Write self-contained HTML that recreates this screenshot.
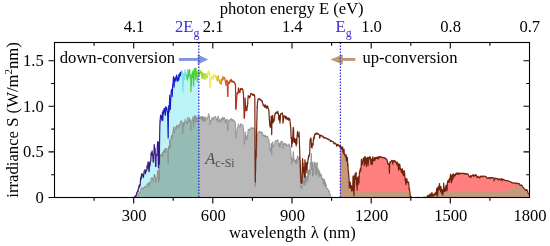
<!DOCTYPE html>
<html><head><meta charset="utf-8"><title>Solar spectrum</title>
<style>html,body{margin:0;padding:0;background:#fff}svg{display:block}</style></head>
<body><svg width="550" height="246" viewBox="0 0 550 246">
<rect width="550" height="246" fill="#fff"/>
<polygon fill="#bcf3f7" points="133.7,197.5 133.9,197.4 134.2,197.4 134.5,197.2 134.7,197.0 135.0,196.8 135.2,196.6 135.5,196.3 135.8,195.7 136.0,195.4 136.3,195.2 136.6,193.8 136.8,193.1 137.1,192.4 137.4,191.8 137.6,190.9 137.9,191.5 138.2,189.6 138.4,188.6 138.7,187.9 138.9,187.5 139.2,185.3 139.5,186.1 139.7,186.7 140.0,184.6 140.3,183.4 140.5,179.8 140.8,177.4 141.1,178.8 141.3,177.5 141.6,173.8 141.8,176.1 142.1,175.6 142.4,175.2 142.6,176.0 142.9,173.8 143.2,174.8 143.4,177.5 143.7,175.3 144.0,173.0 144.2,171.3 144.5,171.2 144.8,171.5 145.0,169.6 145.3,172.6 145.5,173.7 145.8,170.7 146.1,170.1 146.3,170.8 146.6,170.7 146.9,168.9 147.1,165.6 147.4,167.4 147.7,168.4 147.9,163.4 148.2,161.9 148.4,164.0 148.7,168.8 149.0,171.1 149.2,171.7 149.5,162.7 149.8,164.9 150.0,166.0 150.3,161.6 150.6,161.3 150.8,160.1 151.1,153.9 151.3,152.6 151.6,154.9 151.9,155.4 152.1,150.8 152.4,154.5 152.7,153.7 152.9,157.7 153.2,162.2 153.5,161.2 153.7,155.2 154.0,153.5 154.2,144.5 154.5,146.7 154.8,153.3 155.0,148.3 155.3,156.0 155.6,166.0 155.8,166.3 156.1,155.2 156.4,155.8 156.6,154.6 156.9,155.1 157.2,153.6 157.4,145.5 157.7,142.0 157.9,141.8 158.2,159.0 158.5,167.8 158.7,146.9 159.0,142.5 159.3,164.2 159.5,146.9 159.8,126.4 160.1,121.4 160.3,118.4 160.6,115.0 160.8,116.3 161.1,116.0 161.4,116.9 161.6,118.8 161.9,120.1 162.2,117.7 162.4,112.6 162.7,120.6 163.0,117.0 163.2,110.7 163.5,111.9 163.8,113.3 164.0,111.1 164.3,108.3 164.5,109.1 164.8,112.3 165.1,110.6 165.3,115.0 165.6,108.5 165.9,106.5 166.1,108.8 166.4,109.7 166.7,107.7 166.9,108.8 167.2,111.5 167.4,111.5 167.7,115.9 168.0,129.5 168.2,137.9 168.5,110.3 168.8,105.5 169.0,112.2 169.3,107.7 169.6,98.9 169.8,95.0 170.1,103.8 170.3,109.4 170.6,100.5 170.9,98.2 171.1,93.2 171.4,90.1 171.7,91.7 171.9,89.2 172.2,96.5 172.5,89.1 172.7,84.6 173.0,84.3 173.2,81.1 173.5,76.7 173.8,79.3 174.0,87.2 174.3,83.4 174.6,81.9 174.8,79.2 175.1,77.3 175.4,78.9 175.6,80.1 175.9,80.7 176.2,77.7 176.4,75.7 176.7,75.0 176.9,77.6 177.2,79.5 177.5,77.9 177.7,81.2 178.0,78.6 178.3,76.9 178.5,80.1 178.8,79.7 179.1,74.5 179.3,76.5 179.6,76.6 179.8,73.1 180.1,75.2 180.4,75.6 180.6,72.3 180.9,73.1 181.2,72.0 181.4,71.4 181.7,70.9 182.0,71.8 182.2,73.9 182.5,74.7 182.8,92.2 183.0,88.9 183.3,79.0 183.5,81.9 183.8,73.5 184.1,73.8 184.3,79.2 184.6,74.5 184.9,74.6 185.1,69.6 185.4,72.4 185.7,72.3 185.9,74.3 186.2,75.1 186.4,75.3 186.7,78.1 187.0,79.1 187.2,74.9 187.5,79.8 187.8,75.6 188.0,69.7 188.3,72.6 188.6,76.3 188.8,72.7 189.1,73.6 189.3,72.7 189.6,69.6 189.9,74.5 190.1,78.3 190.4,76.3 190.7,74.6 190.9,91.4 191.2,86.2 191.5,85.2 191.7,78.4 192.0,75.1 192.2,72.7 192.5,77.4 192.8,72.4 193.0,70.9 193.3,73.7 193.6,86.1 193.8,78.2 194.1,70.0 194.4,72.3 194.6,68.4 194.9,68.4 195.2,79.3 195.4,76.5 195.7,73.1 195.9,68.5 196.2,74.5 196.5,72.3 196.7,73.1 197.0,77.0 197.3,81.5 197.5,75.0 197.8,74.0 198.1,71.2 198.3,72.3 198.6,73.8 198.8,73.0 198.8,197.5 133.7,197.5"/>
<polygon fill="#b9b9b9" points="133.7,197.5 133.9,197.5 134.2,197.4 134.5,197.4 134.7,197.3 135.0,197.2 135.2,197.1 135.5,197.0 135.8,196.8 136.0,196.7 136.3,196.6 136.6,196.0 136.8,195.7 137.1,195.4 137.4,195.2 137.6,194.8 137.9,195.1 138.2,194.3 138.4,193.8 138.7,193.6 138.9,193.5 139.2,192.5 139.5,192.8 139.7,193.1 140.0,192.3 140.3,191.7 140.5,190.2 140.8,189.3 141.1,189.9 141.3,189.3 141.6,187.7 141.8,188.5 142.1,188.5 142.4,188.3 142.6,188.7 142.9,187.9 143.2,188.2 143.4,189.3 143.7,188.2 144.0,187.3 144.2,186.7 144.5,186.5 144.8,186.7 145.0,186.0 145.3,187.2 145.5,187.6 145.8,186.3 146.1,186.0 146.3,186.5 146.6,186.3 146.9,185.4 147.1,184.0 147.4,184.7 147.7,185.1 147.9,182.9 148.2,182.5 148.4,183.1 148.7,185.4 149.0,186.3 149.2,186.6 149.5,182.4 149.8,183.3 150.0,183.9 150.3,181.7 150.6,181.9 150.8,181.2 151.1,178.5 151.3,178.0 151.6,178.8 151.9,178.7 152.1,177.1 152.4,178.4 152.7,178.2 152.9,179.6 153.2,181.8 153.5,181.3 153.7,178.5 154.0,177.8 154.2,174.0 154.5,174.4 154.8,177.8 155.0,175.2 155.3,178.4 155.6,183.1 155.8,183.0 156.1,177.5 156.4,177.8 156.6,177.3 156.9,177.7 157.2,176.5 157.4,172.4 157.7,170.5 157.9,170.3 158.2,178.4 158.5,182.8 158.7,172.1 159.0,169.5 159.3,180.7 159.5,171.6 159.8,160.1 160.1,157.6 160.3,156.7 160.6,154.4 160.8,154.8 161.1,154.3 161.4,155.1 161.6,156.2 161.9,156.8 162.2,155.0 162.4,152.3 162.7,156.7 163.0,154.6 163.2,151.3 163.5,151.4 163.8,152.6 164.0,150.9 164.3,149.1 164.5,149.5 164.8,151.7 165.1,149.8 165.3,152.9 165.6,148.8 165.9,148.1 166.1,149.6 166.4,149.2 166.7,148.0 166.9,148.6 167.2,149.9 167.4,150.1 167.7,152.5 168.0,159.8 168.2,163.8 168.5,148.5 168.8,146.3 169.0,149.5 169.3,147.3 169.6,142.2 169.8,139.2 170.1,144.7 170.3,148.2 170.6,142.8 170.9,140.9 171.1,137.9 171.4,135.5 171.7,137.2 171.9,135.0 172.2,139.2 172.5,135.1 172.7,131.9 173.0,131.7 173.2,130.5 173.5,126.7 173.8,129.4 174.0,133.2 174.3,131.0 174.6,129.8 174.8,128.7 175.1,127.1 175.4,128.0 175.6,128.0 175.9,129.3 176.2,126.9 176.4,125.8 176.7,125.9 176.9,125.1 177.2,127.7 177.5,127.4 177.7,127.7 178.0,127.4 178.3,125.5 178.5,127.1 178.8,127.6 179.1,124.3 179.3,125.4 179.6,125.1 179.8,123.8 180.1,124.8 180.4,124.3 180.6,121.5 180.9,122.1 181.2,120.6 181.4,120.8 181.7,121.2 182.0,121.4 182.2,123.7 182.5,123.4 182.8,133.9 183.0,131.2 183.3,124.8 183.5,127.1 183.8,122.0 184.1,122.6 184.3,125.0 184.6,121.8 184.9,121.6 185.1,119.2 185.4,119.1 185.7,119.5 185.9,121.4 186.2,122.0 186.4,121.9 186.7,123.4 187.0,124.0 187.2,121.1 187.5,123.9 187.8,120.9 188.0,117.2 188.3,119.8 188.6,121.7 188.8,119.9 189.1,120.6 189.3,118.4 189.6,117.9 189.9,119.4 190.1,123.1 190.4,121.5 190.7,119.8 190.9,131.0 191.2,127.5 191.5,127.2 191.7,123.0 192.0,120.7 192.2,119.5 192.5,120.9 192.8,118.9 193.0,116.6 193.3,121.2 193.6,127.2 193.8,121.9 194.1,117.2 194.4,117.7 194.6,115.4 194.9,116.0 195.2,122.4 195.4,119.1 195.7,118.4 195.9,115.5 196.2,119.7 196.5,117.9 196.7,119.3 197.0,121.0 197.3,122.2 197.5,118.8 197.8,118.4 198.1,116.3 198.3,116.4 198.6,118.2 198.8,116.6 199.1,118.6 199.4,117.8 199.6,116.6 199.9,119.4 200.2,116.9 200.4,117.6 200.7,117.7 201.0,116.5 201.2,117.6 201.5,119.4 201.8,116.4 202.0,120.4 202.3,120.8 202.5,116.2 202.8,118.9 203.1,116.9 203.3,117.6 203.6,116.8 203.9,121.7 204.1,117.6 204.4,117.3 204.7,119.6 204.9,118.6 205.2,121.7 205.4,117.5 205.7,116.8 206.0,116.8 206.2,118.6 206.5,119.0 206.8,119.4 207.0,119.4 207.3,119.6 207.6,117.7 207.8,117.2 208.1,115.7 208.3,115.6 208.6,113.7 208.9,113.9 209.1,117.1 209.4,116.1 209.7,116.8 209.9,124.8 210.2,123.8 210.5,120.7 210.7,120.2 211.0,120.0 211.2,120.0 211.5,121.1 211.8,118.3 212.0,118.4 212.3,117.3 212.6,117.9 212.8,118.5 213.1,118.9 213.4,119.8 213.6,117.5 213.9,117.5 214.2,117.6 214.4,117.0 214.7,116.5 214.9,117.2 215.2,116.2 215.5,117.5 215.7,117.7 216.0,117.7 216.3,117.8 216.5,119.9 216.8,119.7 217.1,118.9 217.3,121.5 217.6,118.4 217.8,118.3 218.1,115.9 218.4,116.7 218.6,118.5 218.9,119.5 219.2,121.2 219.4,122.3 219.7,121.2 220.0,118.8 220.2,121.9 220.5,120.6 220.8,120.6 221.0,121.4 221.3,122.1 221.5,118.2 221.8,119.5 222.1,120.0 222.3,119.9 222.6,118.6 222.9,116.9 223.1,117.9 223.4,118.6 223.7,120.4 223.9,118.3 224.2,117.2 224.4,117.4 224.7,118.8 225.0,119.2 225.2,122.0 225.5,120.6 225.8,122.8 226.0,123.6 226.3,119.2 226.6,120.5 226.8,119.0 227.1,119.5 227.3,122.3 227.6,131.2 227.9,130.8 228.1,123.7 228.4,121.0 228.7,120.7 228.9,119.9 229.2,121.8 229.5,121.5 229.7,120.7 230.0,119.8 230.2,119.0 230.5,120.1 230.8,118.8 231.0,118.8 231.3,118.4 231.6,119.5 231.8,119.3 232.1,120.9 232.4,119.6 232.6,120.7 232.9,119.8 233.2,119.5 233.4,120.8 233.7,121.2 233.9,121.1 234.2,120.5 234.5,121.6 234.7,120.9 235.0,122.3 235.3,122.3 235.5,123.1 235.8,138.4 236.1,137.7 236.3,135.3 236.6,132.7 236.8,130.0 237.1,129.2 237.4,127.8 237.6,128.2 237.9,126.8 238.2,126.0 238.4,123.9 238.7,124.1 239.0,126.1 239.2,126.2 239.5,126.7 239.8,126.6 240.0,127.4 240.3,125.3 240.5,124.0 240.8,123.5 241.1,124.7 241.3,125.4 241.6,125.4 241.9,124.8 242.1,124.9 242.4,124.5 242.7,125.1 242.9,125.0 243.2,126.4 243.4,127.4 243.7,133.5 244.0,139.3 244.2,144.5 244.5,142.9 244.8,138.4 245.0,131.7 245.3,132.6 245.6,137.8 245.8,140.1 246.1,138.2 246.3,136.6 246.6,138.1 246.9,139.5 247.1,135.3 247.4,136.4 247.7,135.0 247.9,131.5 248.2,129.3 248.5,129.3 248.7,131.0 249.0,130.6 249.2,128.9 249.5,130.0 249.8,129.0 250.0,129.9 250.3,128.8 250.6,128.4 250.8,128.7 251.1,127.4 251.4,128.1 251.6,127.6 251.9,128.3 252.2,127.8 252.4,128.5 252.7,129.0 252.9,128.2 253.2,128.8 253.5,128.6 253.7,127.6 254.0,129.2 254.3,129.6 254.5,129.2 254.8,131.0 255.1,169.6 255.3,187.0 255.6,166.4 255.8,171.7 256.1,169.5 256.4,161.0 256.6,152.9 256.9,144.6 257.2,137.3 257.4,134.5 257.7,133.3 258.0,132.6 258.2,132.1 258.5,132.0 258.8,131.4 259.0,131.2 259.3,131.1 259.5,131.7 259.8,132.5 260.1,131.6 260.3,132.5 260.6,131.9 260.9,131.8 261.1,131.9 261.4,132.8 261.7,133.5 261.9,131.9 262.2,132.3 262.4,134.5 262.7,134.1 263.0,135.1 263.2,136.1 263.5,134.9 263.8,136.4 264.0,136.5 264.3,135.3 264.6,136.6 264.8,136.6 265.1,134.8 265.3,136.8 265.6,136.0 265.9,137.0 266.1,136.2 266.4,137.4 266.7,136.7 266.9,137.4 267.2,136.7 267.5,135.8 267.7,136.7 268.0,138.1 268.2,138.2 268.5,138.6 268.8,139.6 269.0,140.0 269.3,145.1 269.6,146.4 269.8,149.4 270.1,150.0 270.4,151.3 270.6,147.8 270.9,148.1 271.2,143.2 271.4,143.6 271.7,155.2 271.9,149.1 272.2,143.9 272.5,144.3 272.7,141.8 273.0,147.5 273.3,146.6 273.5,145.4 273.8,145.2 274.1,146.3 274.3,144.7 274.6,144.9 274.8,141.9 275.1,142.1 275.4,140.5 275.6,140.2 275.9,141.5 276.2,140.8 276.4,140.6 276.7,141.3 277.0,140.8 277.2,141.5 277.5,140.6 277.8,139.6 278.0,141.4 278.3,142.2 278.5,142.7 278.8,146.4 279.1,144.3 279.3,143.7 279.6,142.9 279.9,148.0 280.1,147.2 280.4,144.0 280.7,142.7 280.9,142.1 281.2,140.9 281.4,142.9 281.7,141.9 282.0,141.4 282.2,141.3 282.5,142.3 282.8,142.8 283.0,148.6 283.3,146.8 283.6,143.6 283.8,144.5 284.1,143.7 284.3,143.7 284.6,142.9 284.9,143.0 285.1,144.1 285.4,145.5 285.7,144.8 285.9,143.7 286.2,143.8 286.5,145.1 286.7,144.7 287.0,145.9 287.2,145.0 287.5,145.7 287.8,144.9 288.0,145.1 288.3,146.2 288.6,146.4 288.8,145.3 289.1,143.8 289.4,145.4 289.6,145.3 289.9,145.8 290.2,148.5 290.4,149.1 290.7,151.7 290.9,153.3 291.2,158.2 291.5,157.7 291.7,164.4 292.0,157.9 292.3,161.7 292.5,160.9 292.8,159.0 293.1,153.2 293.3,151.4 293.6,153.4 293.8,160.0 294.1,161.4 294.4,159.5 294.6,161.6 294.9,161.1 295.2,159.8 295.4,162.2 295.7,162.8 296.0,160.6 296.2,164.4 296.5,159.4 296.8,162.9 297.0,158.8 297.3,157.1 297.5,155.8 297.8,158.7 298.1,157.9 298.3,158.1 298.6,158.8 298.9,159.8 299.1,156.4 299.4,163.5 299.7,167.2 299.9,172.9 300.2,175.2 300.4,180.1 300.7,183.6 301.0,188.5 301.2,185.4 301.5,187.7 301.8,188.9 302.0,187.4 302.3,179.2 302.6,173.6 302.8,176.4 303.1,176.9 303.3,181.4 303.6,182.7 303.9,179.5 304.1,185.3 304.4,180.5 304.7,181.9 304.9,175.1 305.2,185.4 305.5,176.8 305.7,180.8 306.0,180.9 306.2,176.6 306.5,179.1 306.8,182.5 307.0,181.3 307.3,179.8 307.6,175.4 307.8,180.5 308.1,172.9 308.4,177.1 308.6,169.9 308.9,172.2 309.2,172.1 309.4,172.9 309.7,169.7 309.9,174.8 310.2,163.2 310.5,164.9 310.7,162.1 311.0,161.1 311.3,153.6 311.5,169.6 311.8,167.1 312.1,170.0 312.3,162.7 312.6,176.3 312.8,161.9 313.1,171.8 313.4,175.3 313.6,170.2 313.9,167.6 314.2,164.2 314.4,166.5 314.7,161.8 315.0,165.5 315.2,166.4 315.5,174.9 315.8,165.1 316.0,163.0 316.3,169.0 316.5,175.4 316.8,173.4 317.1,162.4 317.3,171.5 317.6,172.4 317.9,173.5 318.1,168.7 318.4,173.6 318.7,174.8 318.9,177.5 319.2,173.5 319.4,170.7 319.7,175.8 320.0,172.8 320.2,174.7 320.5,175.1 320.8,175.6 321.0,176.5 321.3,174.2 321.6,176.1 321.8,179.3 322.1,177.9 322.3,179.1 322.6,178.2 322.9,179.4 323.1,179.2 323.4,184.1 323.7,180.5 323.9,178.9 324.2,184.9 324.5,179.5 324.7,182.4 325.0,183.7 325.2,186.9 325.5,182.3 325.8,186.2 326.0,185.9 326.3,184.8 326.6,187.8 326.8,188.2 327.1,189.1 327.4,188.3 327.6,188.0 327.9,188.9 328.2,189.5 328.4,190.9 328.7,191.0 328.9,192.2 329.2,190.9 329.5,192.8 329.7,194.5 330.0,194.5 330.3,194.0 330.5,195.7 330.8,195.9 331.1,196.3 331.3,196.8 331.6,196.9 331.8,197.2 332.1,197.5 332.1,197.5 133.7,197.5"/>
<polygon fill="#94bcb4" points="133.7,197.5 133.9,197.5 134.2,197.4 134.5,197.4 134.7,197.3 135.0,197.2 135.2,197.1 135.5,197.0 135.8,196.8 136.0,196.7 136.3,196.6 136.6,196.0 136.8,195.7 137.1,195.4 137.4,195.2 137.6,194.8 137.9,195.1 138.2,194.3 138.4,193.8 138.7,193.6 138.9,193.5 139.2,192.5 139.5,192.8 139.7,193.1 140.0,192.3 140.3,191.7 140.5,190.2 140.8,189.3 141.1,189.9 141.3,189.3 141.6,187.7 141.8,188.5 142.1,188.5 142.4,188.3 142.6,188.7 142.9,187.9 143.2,188.2 143.4,189.3 143.7,188.2 144.0,187.3 144.2,186.7 144.5,186.5 144.8,186.7 145.0,186.0 145.3,187.2 145.5,187.6 145.8,186.3 146.1,186.0 146.3,186.5 146.6,186.3 146.9,185.4 147.1,184.0 147.4,184.7 147.7,185.1 147.9,182.9 148.2,182.5 148.4,183.1 148.7,185.4 149.0,186.3 149.2,186.6 149.5,182.4 149.8,183.3 150.0,183.9 150.3,181.7 150.6,181.9 150.8,181.2 151.1,178.5 151.3,178.0 151.6,178.8 151.9,178.7 152.1,177.1 152.4,178.4 152.7,178.2 152.9,179.6 153.2,181.8 153.5,181.3 153.7,178.5 154.0,177.8 154.2,174.0 154.5,174.4 154.8,177.8 155.0,175.2 155.3,178.4 155.6,183.1 155.8,183.0 156.1,177.5 156.4,177.8 156.6,177.3 156.9,177.7 157.2,176.5 157.4,172.4 157.7,170.5 157.9,170.3 158.2,178.4 158.5,182.8 158.7,172.1 159.0,169.5 159.3,180.7 159.5,171.6 159.8,160.1 160.1,157.6 160.3,156.7 160.6,154.4 160.8,154.8 161.1,154.3 161.4,155.1 161.6,156.2 161.9,156.8 162.2,155.0 162.4,152.3 162.7,156.7 163.0,154.6 163.2,151.3 163.5,151.4 163.8,152.6 164.0,150.9 164.3,149.1 164.5,149.5 164.8,151.7 165.1,149.8 165.3,152.9 165.6,148.8 165.9,148.1 166.1,149.6 166.4,149.2 166.7,148.0 166.9,148.6 167.2,149.9 167.4,150.1 167.7,152.5 168.0,159.8 168.2,163.8 168.5,148.5 168.8,146.3 169.0,149.5 169.3,147.3 169.6,142.2 169.8,139.2 170.1,144.7 170.3,148.2 170.6,142.8 170.9,140.9 171.1,137.9 171.4,135.5 171.7,137.2 171.9,135.0 172.2,139.2 172.5,135.1 172.7,131.9 173.0,131.7 173.2,130.5 173.5,126.7 173.8,129.4 174.0,133.2 174.3,131.0 174.6,129.8 174.8,128.7 175.1,127.1 175.4,128.0 175.6,128.0 175.9,129.3 176.2,126.9 176.4,125.8 176.7,125.9 176.9,125.1 177.2,127.7 177.5,127.4 177.7,127.7 178.0,127.4 178.3,125.5 178.5,127.1 178.8,127.6 179.1,124.3 179.3,125.4 179.6,125.1 179.8,123.8 180.1,124.8 180.4,124.3 180.6,121.5 180.9,122.1 181.2,120.6 181.4,120.8 181.7,121.2 182.0,121.4 182.2,123.7 182.5,123.4 182.8,133.9 183.0,131.2 183.3,124.8 183.5,127.1 183.8,122.0 184.1,122.6 184.3,125.0 184.6,121.8 184.9,121.6 185.1,119.2 185.4,119.1 185.7,119.5 185.9,121.4 186.2,122.0 186.4,121.9 186.7,123.4 187.0,124.0 187.2,121.1 187.5,123.9 187.8,120.9 188.0,117.2 188.3,119.8 188.6,121.7 188.8,119.9 189.1,120.6 189.3,118.4 189.6,117.9 189.9,119.4 190.1,123.1 190.4,121.5 190.7,119.8 190.9,131.0 191.2,127.5 191.5,127.2 191.7,123.0 192.0,120.7 192.2,119.5 192.5,120.9 192.8,118.9 193.0,116.6 193.3,121.2 193.6,127.2 193.8,121.9 194.1,117.2 194.4,117.7 194.6,115.4 194.9,116.0 195.2,122.4 195.4,119.1 195.7,118.4 195.9,115.5 196.2,119.7 196.5,117.9 196.7,119.3 197.0,121.0 197.3,122.2 197.5,118.8 197.8,118.4 198.1,116.3 198.3,116.4 198.6,118.2 198.8,116.8 198.8,197.5 133.7,197.5"/>
<polygon fill="#ff7f7f" points="340.4,146.5 340.6,147.1 340.8,146.6 341.1,148.8 341.3,148.8 341.6,146.9 341.9,147.2 342.1,149.0 342.4,147.4 342.7,147.2 342.9,151.8 343.2,151.5 343.5,152.1 343.7,153.6 344.0,149.1 344.2,152.4 344.5,153.7 344.8,155.0 345.0,154.7 345.3,156.3 345.6,157.1 345.8,157.0 346.1,154.5 346.4,160.7 346.6,157.5 346.9,160.0 347.2,161.7 347.4,157.4 347.7,165.5 347.9,163.4 348.2,171.0 348.5,172.1 348.7,174.7 349.0,178.9 349.3,187.9 349.5,181.6 349.8,185.4 350.1,185.8 350.3,182.3 350.6,188.1 350.8,187.3 351.1,187.6 351.4,185.7 351.6,191.0 351.9,186.1 352.2,187.6 352.4,188.4 352.7,190.6 353.0,176.7 353.2,175.8 353.5,182.4 353.8,191.4 354.0,195.6 354.3,188.7 354.5,175.9 354.8,178.0 355.1,173.6 355.3,174.3 355.6,179.3 355.9,178.6 356.1,172.3 356.4,183.3 356.7,185.5 356.9,184.0 357.2,190.2 357.4,178.5 357.7,177.3 358.0,184.8 358.2,181.5 358.5,176.9 358.8,176.5 359.0,183.0 359.3,173.9 359.6,172.3 359.8,170.8 360.1,170.3 360.3,168.7 360.6,171.5 360.9,168.6 361.1,167.1 361.4,159.4 361.7,161.1 361.9,163.4 362.2,164.6 362.5,162.6 362.7,161.2 363.0,160.8 363.2,158.4 363.5,158.3 363.8,158.1 364.0,157.9 364.3,165.6 364.6,160.7 364.8,156.6 365.1,156.3 365.4,163.7 365.6,158.1 365.9,158.2 366.2,158.2 366.4,166.5 366.7,161.8 366.9,160.6 367.2,161.8 367.5,157.5 367.7,157.4 368.0,165.7 368.3,163.1 368.5,158.3 368.8,158.3 369.1,156.9 369.3,157.5 369.6,157.0 369.8,158.1 370.1,159.6 370.4,157.0 370.6,158.8 370.9,164.2 371.2,160.3 371.4,159.2 371.7,159.4 372.0,159.6 372.2,164.4 372.5,161.1 372.8,156.6 373.0,159.0 373.3,159.8 373.5,161.0 373.8,158.9 374.1,160.1 374.3,160.6 374.6,157.6 374.9,158.9 375.1,160.1 375.4,157.8 375.7,157.6 375.9,157.6 376.2,158.3 376.4,157.9 376.7,157.2 377.0,157.9 377.2,158.7 377.5,158.6 377.8,157.6 378.0,156.9 378.3,159.0 378.6,157.6 378.8,156.8 379.1,157.3 379.3,156.7 379.6,156.8 379.9,157.7 380.1,156.9 380.4,156.9 380.7,156.7 380.9,157.0 381.2,156.8 381.5,157.1 381.7,157.3 382.0,157.3 382.2,157.2 382.5,157.5 382.8,157.8 383.0,157.8 383.3,157.5 383.6,157.6 383.8,157.6 384.1,157.5 384.4,157.6 384.6,158.0 384.9,158.2 385.2,158.4 385.4,158.7 385.7,158.4 385.9,158.9 386.2,159.4 386.5,158.9 386.7,159.9 387.0,160.0 387.3,161.2 387.5,162.6 387.8,162.7 388.1,164.4 388.3,163.5 388.6,163.6 388.8,163.7 389.1,164.8 389.4,173.2 389.6,166.7 389.9,162.3 390.2,161.8 390.4,162.0 390.7,162.1 391.0,161.7 391.2,161.2 391.5,160.9 391.8,160.4 392.0,160.4 392.3,160.6 392.5,161.2 392.8,164.1 393.1,162.7 393.3,161.1 393.6,160.6 393.9,160.3 394.1,160.6 394.4,160.8 394.7,161.5 394.9,161.5 395.2,161.1 395.4,162.4 395.7,161.8 396.0,162.0 396.2,162.1 396.5,163.1 396.8,164.7 397.0,163.7 397.3,162.2 397.6,165.4 397.8,166.0 398.1,163.9 398.3,166.2 398.6,170.2 398.9,165.8 399.1,163.9 399.4,169.0 399.7,168.1 399.9,164.7 400.2,169.3 400.5,169.0 400.7,168.3 401.0,169.6 401.2,171.7 401.5,172.4 401.8,170.0 402.0,169.9 402.3,168.8 402.6,172.6 402.8,174.6 403.1,172.2 403.4,171.1 403.6,175.6 403.9,175.1 404.2,170.6 404.4,172.0 404.7,173.9 404.9,176.2 405.2,180.7 405.5,178.5 405.7,182.9 406.0,184.7 406.3,180.9 406.5,181.9 406.8,178.6 407.1,180.3 407.3,182.6 407.6,182.2 407.8,181.9 408.1,182.5 408.4,182.6 408.6,182.0 408.9,185.2 409.2,189.7 409.4,188.6 409.7,191.3 410.0,192.2 410.2,195.9 410.5,196.3 410.8,196.1 411.0,196.8 411.3,197.3 411.5,197.5 411.8,197.5 412.1,197.5 412.3,197.5 412.6,197.5 412.9,197.5 413.1,197.5 413.4,197.5 413.7,197.5 413.9,197.5 414.2,197.5 414.4,197.5 414.7,197.5 415.0,197.5 415.2,197.5 415.5,197.5 415.8,197.5 416.0,197.5 416.3,197.5 416.6,197.5 416.8,197.5 417.1,197.5 417.3,197.5 417.6,197.5 417.9,197.5 418.1,197.4 418.4,197.5 418.7,197.5 418.9,197.5 419.2,197.5 419.5,197.5 419.7,197.5 420.0,197.5 420.2,197.5 420.5,197.5 420.8,197.5 421.0,197.5 421.3,197.5 421.6,197.5 421.8,197.5 422.1,197.5 422.4,197.5 422.6,197.5 422.9,197.5 423.2,197.5 423.4,197.4 423.7,197.4 423.9,197.5 424.2,197.5 424.5,197.4 424.7,197.3 425.0,197.4 425.3,197.5 425.5,197.4 425.8,197.4 426.1,197.4 426.3,197.4 426.6,197.5 426.8,197.3 427.1,197.3 427.4,195.9 427.6,197.0 427.9,197.5 428.2,195.1 428.4,195.9 428.7,196.3 429.0,197.1 429.2,196.9 429.5,196.7 429.8,194.2 430.0,195.9 430.3,196.2 430.5,195.4 430.8,195.1 431.1,193.6 431.3,196.1 431.6,194.9 431.9,192.6 432.1,192.8 432.4,196.2 432.7,195.1 432.9,195.3 433.2,195.6 433.4,194.5 433.7,194.7 434.0,196.0 434.2,193.8 434.5,193.7 434.8,194.5 435.0,194.4 435.3,193.7 435.6,192.4 435.8,192.8 436.1,194.9 436.3,194.6 436.6,189.0 436.9,188.1 437.1,193.4 437.4,196.1 437.7,193.1 437.9,190.7 438.2,186.5 438.5,190.0 438.7,190.1 439.0,187.8 439.2,185.8 439.5,183.6 439.8,188.2 440.0,189.6 440.3,186.8 440.6,191.7 440.8,186.4 441.1,187.9 441.4,191.1 441.6,193.7 441.9,191.6 442.2,189.5 442.4,192.1 442.7,195.2 442.9,194.0 443.2,191.8 443.5,189.5 443.7,183.1 444.0,188.8 444.3,191.3 444.5,191.7 444.8,188.1 445.1,190.8 445.3,188.5 445.6,191.0 445.8,186.3 446.1,185.1 446.4,186.1 446.6,186.5 446.9,190.7 447.2,189.9 447.4,182.8 447.7,181.7 448.0,180.5 448.2,182.2 448.5,181.8 448.8,179.9 449.0,180.9 449.3,182.3 449.5,178.6 449.8,179.8 450.1,178.8 450.3,176.0 450.6,174.3 450.9,176.1 451.1,180.0 451.4,182.7 451.7,181.7 451.9,176.3 452.2,174.9 452.4,175.7 452.7,179.7 453.0,175.4 453.2,173.9 453.5,174.3 453.8,175.6 454.0,177.1 454.3,174.9 454.6,174.6 454.8,175.3 455.1,175.2 455.3,175.7 455.6,174.5 455.9,173.4 456.1,173.9 456.4,173.1 456.7,173.0 456.9,174.2 457.2,174.0 457.5,174.2 457.7,173.1 458.0,173.2 458.2,174.5 458.5,173.9 458.8,173.0 459.0,172.9 459.3,173.5 459.6,173.8 459.8,173.3 460.1,173.3 460.4,173.4 460.6,173.3 460.9,173.9 461.2,173.8 461.4,173.6 461.7,173.5 461.9,173.4 462.2,173.1 462.5,173.1 462.7,173.3 463.0,173.7 463.3,173.4 463.5,173.5 463.8,173.5 464.1,173.4 464.3,173.4 464.6,173.9 464.8,173.9 465.1,174.1 465.4,173.7 465.6,173.7 465.9,173.7 466.2,173.9 466.4,173.7 466.7,173.7 467.0,173.9 467.2,174.1 467.5,173.9 467.8,174.1 468.0,174.2 468.3,174.6 468.5,174.9 468.8,175.8 469.1,176.5 469.3,176.5 469.6,176.7 469.9,176.3 470.1,176.2 470.4,175.8 470.7,177.7 470.9,177.1 471.2,176.6 471.4,176.0 471.7,175.6 472.0,175.9 472.2,175.7 472.5,175.5 472.8,174.8 473.0,174.8 473.3,175.0 473.6,175.2 473.8,176.5 474.1,176.3 474.3,176.1 474.6,175.4 474.9,174.8 475.1,174.8 475.4,174.7 475.7,175.5 475.9,175.7 476.2,175.1 476.5,175.8 476.7,176.3 477.0,177.4 477.2,177.7 477.5,177.7 477.8,177.4 478.0,176.7 478.3,176.2 478.6,176.7 478.8,177.1 479.1,177.3 479.4,178.0 479.6,177.6 479.9,177.1 480.2,176.6 480.4,176.4 480.7,176.2 480.9,176.8 481.2,176.8 481.5,176.1 481.7,176.1 482.0,176.6 482.3,176.7 482.5,176.5 482.8,176.1 483.1,176.0 483.3,176.3 483.6,176.3 483.8,176.2 484.1,176.1 484.4,176.1 484.6,176.4 484.9,176.4 485.2,176.4 485.4,176.8 485.7,176.9 486.0,176.8 486.2,176.7 486.5,177.2 486.8,177.8 487.0,178.0 487.3,178.3 487.5,178.1 487.8,178.0 488.1,178.3 488.3,177.9 488.6,178.0 488.9,178.2 489.1,177.5 489.4,178.1 489.7,178.2 489.9,177.7 490.2,178.6 490.4,178.0 490.7,177.7 491.0,178.2 491.2,177.9 491.5,177.9 491.8,177.8 492.0,177.6 492.3,177.8 492.6,177.7 492.8,177.7 493.1,178.0 493.3,177.9 493.6,177.9 493.9,178.5 494.1,180.9 494.4,179.5 494.7,178.5 494.9,178.4 495.2,178.0 495.5,178.0 495.7,178.6 496.0,178.4 496.2,178.3 496.5,178.5 496.8,178.7 497.0,178.7 497.3,178.9 497.6,178.7 497.8,179.1 498.1,180.0 498.4,179.6 498.6,179.1 498.9,179.7 499.2,178.9 499.4,178.8 499.7,179.2 499.9,179.0 500.2,179.0 500.5,179.2 500.7,180.1 501.0,179.4 501.3,178.8 501.5,179.2 501.8,179.0 502.1,178.9 502.3,180.8 502.6,179.7 502.8,179.2 503.1,179.6 503.4,179.6 503.6,179.4 503.9,179.5 504.2,179.7 504.4,179.9 504.7,180.1 505.0,180.2 505.2,180.4 505.5,180.6 505.8,180.8 506.0,180.8 506.3,180.7 506.5,180.7 506.8,180.7 507.1,180.6 507.3,180.7 507.6,180.7 507.9,180.8 508.1,180.8 508.4,180.9 508.7,181.0 508.9,181.2 509.2,181.3 509.4,181.5 509.7,181.6 510.0,181.7 510.2,181.8 510.5,181.9 510.8,181.9 511.0,182.0 511.3,182.2 511.6,182.4 511.8,182.6 512.1,182.9 512.3,183.1 512.6,183.0 512.9,182.9 513.1,182.8 513.4,182.7 513.7,182.6 513.9,182.7 514.2,183.0 514.5,183.2 514.7,183.4 515.0,183.7 515.2,183.6 515.5,183.4 515.8,183.2 516.0,183.0 516.3,182.8 516.6,182.9 516.8,183.2 517.1,183.4 517.4,183.6 517.6,183.8 517.9,183.8 518.2,183.7 518.4,183.5 518.7,183.4 518.9,183.3 519.2,183.6 519.5,184.1 519.7,184.6 520.0,185.1 520.3,185.6 520.5,185.6 520.8,185.4 521.1,185.2 521.3,185.1 521.6,184.9 521.8,185.2 522.1,185.7 522.4,186.2 522.6,186.7 522.9,187.2 523.2,187.5 523.4,187.7 523.7,188.0 524.0,188.2 524.2,188.5 524.5,188.9 524.8,189.3 525.0,189.7 525.3,190.1 525.5,190.5 525.8,190.5 526.1,190.3 526.3,190.1 526.6,189.8 526.9,189.6 527.1,190.1 527.4,190.9 527.7,191.6 527.9,192.4 528.2,193.1 528.4,193.5 528.7,193.8 529.0,194.1 529.2,194.3 529.5,194.6 529.5,197.5 340.4,197.5"/>
<polygon fill="#c49a7c" points="340.4,146.5 340.6,147.1 340.8,146.6 341.1,148.8 341.3,148.8 341.6,146.9 341.9,147.2 342.1,149.0 342.4,147.4 342.7,147.2 342.9,151.8 343.2,151.5 343.5,152.1 343.7,153.6 344.0,149.1 344.2,152.4 344.5,153.7 344.8,155.0 345.0,154.7 345.3,156.3 345.6,157.1 345.8,157.0 346.1,154.5 346.4,160.7 346.6,157.5 346.9,160.0 347.2,161.7 347.4,157.4 347.7,165.5 347.9,163.4 348.2,171.0 348.5,172.1 348.7,174.7 349.0,178.9 349.3,187.9 349.5,181.6 349.8,185.4 350.1,185.8 350.3,182.3 350.6,188.1 350.8,187.3 351.1,187.6 351.4,191.8 351.6,191.8 351.9,191.8 352.2,191.8 352.4,191.8 352.7,191.8 353.0,191.8 353.2,191.8 353.5,191.8 353.8,191.8 354.0,195.6 354.3,191.8 354.5,191.8 354.8,191.8 355.1,191.8 355.3,191.8 355.6,191.8 355.9,191.8 356.1,191.8 356.4,191.8 356.7,191.8 356.9,191.8 357.2,191.8 357.4,191.8 357.7,191.8 358.0,191.8 358.2,191.8 358.5,191.8 358.8,191.8 359.0,191.8 359.3,191.8 359.6,191.8 359.8,191.8 360.1,191.8 360.3,191.8 360.6,191.8 360.9,191.8 361.1,191.8 361.4,191.8 361.7,191.8 361.9,191.8 362.2,191.8 362.5,191.8 362.7,191.8 363.0,191.8 363.2,191.8 363.5,191.8 363.8,191.8 364.0,191.8 364.3,191.8 364.6,191.8 364.8,191.8 365.1,191.8 365.4,191.8 365.6,191.8 365.9,191.8 366.2,191.8 366.4,191.8 366.7,191.8 366.9,191.8 367.2,191.8 367.5,191.8 367.7,191.8 368.0,191.8 368.3,191.8 368.5,191.8 368.8,191.8 369.1,191.8 369.3,191.8 369.6,191.8 369.8,191.8 370.1,191.8 370.4,191.8 370.6,191.8 370.9,191.8 371.2,191.8 371.4,191.8 371.7,191.8 372.0,191.8 372.2,191.8 372.5,191.8 372.8,191.8 373.0,191.8 373.3,191.8 373.5,191.8 373.8,191.8 374.1,191.8 374.3,191.8 374.6,191.8 374.9,191.8 375.1,191.8 375.4,191.8 375.7,191.8 375.9,191.8 376.2,191.8 376.4,191.8 376.7,191.8 377.0,191.8 377.2,191.8 377.5,191.8 377.8,191.8 378.0,191.8 378.3,191.8 378.6,191.8 378.8,191.8 379.1,191.8 379.3,191.8 379.6,191.8 379.9,191.8 380.1,191.8 380.4,191.8 380.7,191.8 380.9,191.8 381.2,191.8 381.5,191.8 381.7,191.8 382.0,191.8 382.2,191.8 382.5,191.8 382.8,191.8 383.0,191.8 383.3,191.8 383.6,191.8 383.8,191.8 384.1,191.8 384.4,191.8 384.6,191.8 384.9,191.8 385.2,191.8 385.4,191.8 385.7,191.8 385.9,191.8 386.2,191.8 386.5,191.8 386.7,191.8 387.0,191.8 387.3,191.8 387.5,191.8 387.8,191.8 388.1,191.8 388.3,191.8 388.6,191.8 388.8,191.8 389.1,191.8 389.4,191.8 389.6,191.8 389.9,191.8 390.2,191.8 390.4,191.8 390.7,191.8 391.0,191.8 391.2,191.8 391.5,191.8 391.8,191.8 392.0,191.8 392.3,191.8 392.5,191.8 392.8,191.8 393.1,191.8 393.3,191.8 393.6,191.8 393.9,191.8 394.1,191.8 394.4,191.8 394.7,191.8 394.9,191.8 395.2,191.8 395.4,191.8 395.7,191.8 396.0,191.8 396.2,191.8 396.5,191.8 396.8,191.8 397.0,191.8 397.3,191.8 397.6,191.8 397.8,191.8 398.1,191.8 398.3,191.8 398.6,191.8 398.9,191.8 399.1,191.8 399.4,191.8 399.7,191.8 399.9,191.8 400.2,191.8 400.5,191.8 400.7,191.8 401.0,191.8 401.2,191.8 401.5,191.8 401.8,191.8 402.0,191.8 402.3,191.8 402.6,191.8 402.8,191.8 403.1,191.8 403.4,191.8 403.6,191.8 403.9,191.8 404.2,191.8 404.4,191.8 404.7,191.8 404.9,191.8 405.2,191.8 405.5,191.8 405.7,191.8 406.0,191.8 406.3,191.8 406.5,191.8 406.8,191.8 407.1,191.8 407.3,191.8 407.6,191.8 407.8,191.8 408.1,191.8 408.4,191.8 408.6,191.8 408.9,191.8 409.2,191.8 409.4,191.8 409.7,191.8 410.0,192.2 410.2,195.9 410.5,196.3 410.8,196.1 411.0,196.8 411.3,197.3 411.5,197.5 411.8,197.5 412.1,197.5 412.3,197.5 412.6,197.5 412.9,197.5 413.1,197.5 413.4,197.5 413.7,197.5 413.9,197.5 414.2,197.5 414.4,197.5 414.7,197.5 415.0,197.5 415.2,197.5 415.5,197.5 415.8,197.5 416.0,197.5 416.3,197.5 416.6,197.5 416.8,197.5 417.1,197.5 417.3,197.5 417.6,197.5 417.9,197.5 418.1,197.4 418.4,197.5 418.7,197.5 418.9,197.5 419.2,197.5 419.5,197.5 419.7,197.5 420.0,197.5 420.2,197.5 420.5,197.5 420.8,197.5 421.0,197.5 421.3,197.5 421.6,197.5 421.8,197.5 422.1,197.5 422.4,197.5 422.6,197.5 422.9,197.5 423.2,197.5 423.4,197.4 423.7,197.4 423.9,197.5 424.2,197.5 424.5,197.4 424.7,197.3 425.0,197.4 425.3,197.5 425.5,197.4 425.8,197.4 426.1,197.4 426.3,197.4 426.6,197.5 426.8,197.3 427.1,197.3 427.4,195.9 427.6,197.0 427.9,197.5 428.2,195.1 428.4,195.9 428.7,196.3 429.0,197.1 429.2,196.9 429.5,196.7 429.8,194.2 430.0,195.9 430.3,196.2 430.5,195.4 430.8,195.1 431.1,193.6 431.3,196.1 431.6,194.9 431.9,192.6 432.1,192.8 432.4,196.2 432.7,195.1 432.9,195.3 433.2,195.6 433.4,194.5 433.7,194.7 434.0,196.0 434.2,193.8 434.5,193.7 434.8,194.5 435.0,194.4 435.3,193.7 435.6,192.4 435.8,192.8 436.1,194.9 436.3,194.6 436.6,191.8 436.9,191.8 437.1,193.4 437.4,196.1 437.7,193.1 437.9,191.8 438.2,191.8 438.5,191.8 438.7,191.8 439.0,191.8 439.2,191.8 439.5,191.8 439.8,191.8 440.0,191.8 440.3,191.8 440.6,191.8 440.8,191.8 441.1,191.8 441.4,191.8 441.6,193.7 441.9,191.8 442.2,191.8 442.4,192.1 442.7,195.2 442.9,194.0 443.2,191.8 443.5,191.8 443.7,191.8 444.0,191.8 444.3,191.8 444.5,191.8 444.8,191.8 445.1,191.8 445.3,191.8 445.6,191.8 445.8,191.8 446.1,191.8 446.4,191.8 446.6,191.8 446.9,191.8 447.2,191.8 447.4,191.8 447.7,191.8 448.0,191.8 448.2,191.8 448.5,191.8 448.8,191.8 449.0,191.8 449.3,191.8 449.5,191.8 449.8,191.8 450.1,191.8 450.3,191.8 450.6,191.8 450.9,191.8 451.1,191.8 451.4,191.8 451.7,191.8 451.9,191.8 452.2,191.8 452.4,191.8 452.7,191.8 453.0,191.8 453.2,191.8 453.5,191.8 453.8,191.8 454.0,191.8 454.3,191.8 454.6,191.8 454.8,191.8 455.1,191.8 455.3,191.8 455.6,191.8 455.9,191.8 456.1,191.8 456.4,191.8 456.7,191.8 456.9,191.8 457.2,191.8 457.5,191.8 457.7,191.8 458.0,191.8 458.2,191.8 458.5,191.8 458.8,191.8 459.0,191.8 459.3,191.8 459.6,191.8 459.8,191.8 460.1,191.8 460.4,191.8 460.6,191.8 460.9,191.8 461.2,191.8 461.4,191.8 461.7,191.8 461.9,191.8 462.2,191.8 462.5,191.8 462.7,191.8 463.0,191.8 463.3,191.8 463.5,191.8 463.8,191.8 464.1,191.8 464.3,191.8 464.6,191.8 464.8,191.8 465.1,191.8 465.4,191.8 465.6,191.8 465.9,191.8 466.2,191.8 466.4,191.8 466.7,191.8 467.0,191.8 467.2,191.8 467.5,191.8 467.8,191.8 468.0,191.8 468.3,191.8 468.5,191.8 468.8,191.8 469.1,191.8 469.3,191.8 469.6,191.8 469.9,191.8 470.1,191.8 470.4,191.8 470.7,191.8 470.9,191.8 471.2,191.8 471.4,191.8 471.7,191.8 472.0,191.8 472.2,191.8 472.5,191.8 472.8,191.8 473.0,191.8 473.3,191.8 473.6,191.8 473.8,191.8 474.1,191.8 474.3,191.8 474.6,191.8 474.9,191.8 475.1,191.8 475.4,191.8 475.7,191.8 475.9,191.8 476.2,191.8 476.5,191.8 476.7,191.8 477.0,191.8 477.2,191.8 477.5,191.8 477.8,191.8 478.0,191.8 478.3,191.8 478.6,191.8 478.8,191.8 479.1,191.8 479.4,191.8 479.6,191.8 479.9,191.8 480.2,191.8 480.4,191.8 480.7,191.8 480.9,191.8 481.2,191.8 481.5,191.8 481.7,191.8 482.0,191.8 482.3,191.8 482.5,191.8 482.8,191.8 483.1,191.8 483.3,191.8 483.6,191.8 483.8,191.8 484.1,191.8 484.4,191.8 484.6,191.8 484.9,191.8 485.2,191.8 485.4,191.8 485.7,191.8 486.0,191.8 486.2,191.8 486.5,191.8 486.8,191.8 487.0,191.8 487.3,191.8 487.5,191.8 487.8,191.8 488.1,191.8 488.3,191.8 488.6,191.8 488.9,191.8 489.1,191.8 489.4,191.8 489.7,191.8 489.9,191.8 490.2,191.8 490.4,191.8 490.7,191.8 491.0,191.8 491.2,191.8 491.5,191.8 491.8,191.8 492.0,191.8 492.3,191.8 492.6,191.8 492.8,191.8 493.1,191.8 493.3,191.8 493.6,191.8 493.9,191.8 494.1,191.8 494.4,191.8 494.7,191.8 494.9,191.8 495.2,191.8 495.5,191.8 495.7,191.8 496.0,191.8 496.2,191.8 496.5,191.8 496.8,191.8 497.0,191.8 497.3,191.8 497.6,191.8 497.8,191.8 498.1,191.8 498.4,191.8 498.6,191.8 498.9,191.8 499.2,191.8 499.4,191.8 499.7,191.8 499.9,191.8 500.2,191.8 500.5,191.8 500.7,191.8 501.0,191.7 501.3,191.7 501.5,191.6 501.8,191.6 502.1,191.5 502.3,191.5 502.6,191.4 502.8,191.4 503.1,191.3 503.4,191.2 503.6,191.2 503.9,191.1 504.2,191.1 504.4,191.0 504.7,191.0 505.0,190.9 505.2,190.9 505.5,190.8 505.8,190.8 506.0,190.7 506.3,190.6 506.5,190.6 506.8,190.5 507.1,190.5 507.3,190.4 507.6,190.4 507.9,190.3 508.1,190.3 508.4,190.2 508.7,190.1 508.9,190.0 509.2,189.9 509.4,189.8 509.7,189.7 510.0,189.6 510.2,189.5 510.5,189.4 510.8,189.3 511.0,189.2 511.3,189.1 511.6,189.0 511.8,188.9 512.1,188.8 512.3,188.7 512.6,188.6 512.9,188.5 513.1,188.4 513.4,188.3 513.7,188.2 513.9,188.1 514.2,188.0 514.5,187.9 514.7,187.8 515.0,187.7 515.2,187.5 515.5,187.3 515.8,187.1 516.0,186.9 516.3,186.7 516.6,186.5 516.8,186.3 517.1,186.1 517.4,185.9 517.6,185.7 517.9,185.5 518.2,185.4 518.4,185.2 518.7,185.0 518.9,184.8 519.2,184.6 519.5,184.4 519.7,184.6 520.0,185.1 520.3,185.6 520.5,185.6 520.8,185.4 521.1,185.2 521.3,185.1 521.6,184.9 521.8,185.2 522.1,185.7 522.4,186.2 522.6,186.7 522.9,187.2 523.2,187.5 523.4,187.7 523.7,188.0 524.0,188.2 524.2,188.5 524.5,188.9 524.8,189.3 525.0,189.7 525.3,190.1 525.5,190.5 525.8,190.5 526.1,190.3 526.3,190.1 526.6,189.8 526.9,189.6 527.1,190.1 527.4,190.9 527.7,191.6 527.9,192.4 528.2,193.1 528.4,193.5 528.7,193.8 529.0,194.1 529.2,194.3 529.5,194.6 529.5,197.5 340.4,197.5"/>
<polyline fill="none" stroke="#909090" stroke-width="0.9" points="133.7,197.5 133.9,197.5 134.2,197.4 134.5,197.4 134.7,197.3 135.0,197.2 135.2,197.1 135.5,197.0 135.8,196.8 136.0,196.7 136.3,196.6 136.6,196.0 136.8,195.7 137.1,195.4 137.4,195.2 137.6,194.8 137.9,195.1 138.2,194.3 138.4,193.8 138.7,193.6 138.9,193.5 139.2,192.5 139.5,192.8 139.7,193.1 140.0,192.3 140.3,191.7 140.5,190.2 140.8,189.3 141.1,189.9 141.3,189.3 141.6,187.7 141.8,188.5 142.1,188.5 142.4,188.3 142.6,188.7 142.9,187.9 143.2,188.2 143.4,189.3 143.7,188.2 144.0,187.3 144.2,186.7 144.5,186.5 144.8,186.7 145.0,186.0 145.3,187.2 145.5,187.6 145.8,186.3 146.1,186.0 146.3,186.5 146.6,186.3 146.9,185.4 147.1,184.0 147.4,184.7 147.7,185.1 147.9,182.9 148.2,182.5 148.4,183.1 148.7,185.4 149.0,186.3 149.2,186.6 149.5,182.4 149.8,183.3 150.0,183.9 150.3,181.7 150.6,181.9 150.8,181.2 151.1,178.5 151.3,178.0 151.6,178.8 151.9,178.7 152.1,177.1 152.4,178.4 152.7,178.2 152.9,179.6 153.2,181.8 153.5,181.3 153.7,178.5 154.0,177.8 154.2,174.0 154.5,174.4 154.8,177.8 155.0,175.2 155.3,178.4 155.6,183.1 155.8,183.0 156.1,177.5 156.4,177.8 156.6,177.3 156.9,177.7 157.2,176.5 157.4,172.4 157.7,170.5 157.9,170.3 158.2,178.4 158.5,182.8 158.7,172.1 159.0,169.5 159.3,180.7 159.5,171.6 159.8,160.1 160.1,157.6 160.3,156.7 160.6,154.4 160.8,154.8 161.1,154.3 161.4,155.1 161.6,156.2 161.9,156.8 162.2,155.0 162.4,152.3 162.7,156.7 163.0,154.6 163.2,151.3 163.5,151.4 163.8,152.6 164.0,150.9 164.3,149.1 164.5,149.5 164.8,151.7 165.1,149.8 165.3,152.9 165.6,148.8 165.9,148.1 166.1,149.6 166.4,149.2 166.7,148.0 166.9,148.6 167.2,149.9 167.4,150.1 167.7,152.5 168.0,159.8 168.2,163.8 168.5,148.5 168.8,146.3 169.0,149.5 169.3,147.3 169.6,142.2 169.8,139.2 170.1,144.7 170.3,148.2 170.6,142.8 170.9,140.9 171.1,137.9 171.4,135.5 171.7,137.2 171.9,135.0 172.2,139.2 172.5,135.1 172.7,131.9 173.0,131.7 173.2,130.5 173.5,126.7 173.8,129.4 174.0,133.2 174.3,131.0 174.6,129.8 174.8,128.7 175.1,127.1 175.4,128.0 175.6,128.0 175.9,129.3 176.2,126.9 176.4,125.8 176.7,125.9 176.9,125.1 177.2,127.7 177.5,127.4 177.7,127.7 178.0,127.4 178.3,125.5 178.5,127.1 178.8,127.6 179.1,124.3 179.3,125.4 179.6,125.1 179.8,123.8 180.1,124.8 180.4,124.3 180.6,121.5 180.9,122.1 181.2,120.6 181.4,120.8 181.7,121.2 182.0,121.4 182.2,123.7 182.5,123.4 182.8,133.9 183.0,131.2 183.3,124.8 183.5,127.1 183.8,122.0 184.1,122.6 184.3,125.0 184.6,121.8 184.9,121.6 185.1,119.2 185.4,119.1 185.7,119.5 185.9,121.4 186.2,122.0 186.4,121.9 186.7,123.4 187.0,124.0 187.2,121.1 187.5,123.9 187.8,120.9 188.0,117.2 188.3,119.8 188.6,121.7 188.8,119.9 189.1,120.6 189.3,118.4 189.6,117.9 189.9,119.4 190.1,123.1 190.4,121.5 190.7,119.8 190.9,131.0 191.2,127.5 191.5,127.2 191.7,123.0 192.0,120.7 192.2,119.5 192.5,120.9 192.8,118.9 193.0,116.6 193.3,121.2 193.6,127.2 193.8,121.9 194.1,117.2 194.4,117.7 194.6,115.4 194.9,116.0 195.2,122.4 195.4,119.1 195.7,118.4 195.9,115.5 196.2,119.7 196.5,117.9 196.7,119.3 197.0,121.0 197.3,122.2 197.5,118.8 197.8,118.4 198.1,116.3 198.3,116.4 198.6,118.2 198.8,116.6 199.1,118.6 199.4,117.8 199.6,116.6 199.9,119.4 200.2,116.9 200.4,117.6 200.7,117.7 201.0,116.5 201.2,117.6 201.5,119.4 201.8,116.4 202.0,120.4 202.3,120.8 202.5,116.2 202.8,118.9 203.1,116.9 203.3,117.6 203.6,116.8 203.9,121.7 204.1,117.6 204.4,117.3 204.7,119.6 204.9,118.6 205.2,121.7 205.4,117.5 205.7,116.8 206.0,116.8 206.2,118.6 206.5,119.0 206.8,119.4 207.0,119.4 207.3,119.6 207.6,117.7 207.8,117.2 208.1,115.7 208.3,115.6 208.6,113.7 208.9,113.9 209.1,117.1 209.4,116.1 209.7,116.8 209.9,124.8 210.2,123.8 210.5,120.7 210.7,120.2 211.0,120.0 211.2,120.0 211.5,121.1 211.8,118.3 212.0,118.4 212.3,117.3 212.6,117.9 212.8,118.5 213.1,118.9 213.4,119.8 213.6,117.5 213.9,117.5 214.2,117.6 214.4,117.0 214.7,116.5 214.9,117.2 215.2,116.2 215.5,117.5 215.7,117.7 216.0,117.7 216.3,117.8 216.5,119.9 216.8,119.7 217.1,118.9 217.3,121.5 217.6,118.4 217.8,118.3 218.1,115.9 218.4,116.7 218.6,118.5 218.9,119.5 219.2,121.2 219.4,122.3 219.7,121.2 220.0,118.8 220.2,121.9 220.5,120.6 220.8,120.6 221.0,121.4 221.3,122.1 221.5,118.2 221.8,119.5 222.1,120.0 222.3,119.9 222.6,118.6 222.9,116.9 223.1,117.9 223.4,118.6 223.7,120.4 223.9,118.3 224.2,117.2 224.4,117.4 224.7,118.8 225.0,119.2 225.2,122.0 225.5,120.6 225.8,122.8 226.0,123.6 226.3,119.2 226.6,120.5 226.8,119.0 227.1,119.5 227.3,122.3 227.6,131.2 227.9,130.8 228.1,123.7 228.4,121.0 228.7,120.7 228.9,119.9 229.2,121.8 229.5,121.5 229.7,120.7 230.0,119.8 230.2,119.0 230.5,120.1 230.8,118.8 231.0,118.8 231.3,118.4 231.6,119.5 231.8,119.3 232.1,120.9 232.4,119.6 232.6,120.7 232.9,119.8 233.2,119.5 233.4,120.8 233.7,121.2 233.9,121.1 234.2,120.5 234.5,121.6 234.7,120.9 235.0,122.3 235.3,122.3 235.5,123.1 235.8,138.4 236.1,137.7 236.3,135.3 236.6,132.7 236.8,130.0 237.1,129.2 237.4,127.8 237.6,128.2 237.9,126.8 238.2,126.0 238.4,123.9 238.7,124.1 239.0,126.1 239.2,126.2 239.5,126.7 239.8,126.6 240.0,127.4 240.3,125.3 240.5,124.0 240.8,123.5 241.1,124.7 241.3,125.4 241.6,125.4 241.9,124.8 242.1,124.9 242.4,124.5 242.7,125.1 242.9,125.0 243.2,126.4 243.4,127.4 243.7,133.5 244.0,139.3 244.2,144.5 244.5,142.9 244.8,138.4 245.0,131.7 245.3,132.6 245.6,137.8 245.8,140.1 246.1,138.2 246.3,136.6 246.6,138.1 246.9,139.5 247.1,135.3 247.4,136.4 247.7,135.0 247.9,131.5 248.2,129.3 248.5,129.3 248.7,131.0 249.0,130.6 249.2,128.9 249.5,130.0 249.8,129.0 250.0,129.9 250.3,128.8 250.6,128.4 250.8,128.7 251.1,127.4 251.4,128.1 251.6,127.6 251.9,128.3 252.2,127.8 252.4,128.5 252.7,129.0 252.9,128.2 253.2,128.8 253.5,128.6 253.7,127.6 254.0,129.2 254.3,129.6 254.5,129.2 254.8,131.0 255.1,169.6 255.3,187.0 255.6,166.4 255.8,171.7 256.1,169.5 256.4,161.0 256.6,152.9 256.9,144.6 257.2,137.3 257.4,134.5 257.7,133.3 258.0,132.6 258.2,132.1 258.5,132.0 258.8,131.4 259.0,131.2 259.3,131.1 259.5,131.7 259.8,132.5 260.1,131.6 260.3,132.5 260.6,131.9 260.9,131.8 261.1,131.9 261.4,132.8 261.7,133.5 261.9,131.9 262.2,132.3 262.4,134.5 262.7,134.1 263.0,135.1 263.2,136.1 263.5,134.9 263.8,136.4 264.0,136.5 264.3,135.3 264.6,136.6 264.8,136.6 265.1,134.8 265.3,136.8 265.6,136.0 265.9,137.0 266.1,136.2 266.4,137.4 266.7,136.7 266.9,137.4 267.2,136.7 267.5,135.8 267.7,136.7 268.0,138.1 268.2,138.2 268.5,138.6 268.8,139.6 269.0,140.0 269.3,145.1 269.6,146.4 269.8,149.4 270.1,150.0 270.4,151.3 270.6,147.8 270.9,148.1 271.2,143.2 271.4,143.6 271.7,155.2 271.9,149.1 272.2,143.9 272.5,144.3 272.7,141.8 273.0,147.5 273.3,146.6 273.5,145.4 273.8,145.2 274.1,146.3 274.3,144.7 274.6,144.9 274.8,141.9 275.1,142.1 275.4,140.5 275.6,140.2 275.9,141.5 276.2,140.8 276.4,140.6 276.7,141.3 277.0,140.8 277.2,141.5 277.5,140.6 277.8,139.6 278.0,141.4 278.3,142.2 278.5,142.7 278.8,146.4 279.1,144.3 279.3,143.7 279.6,142.9 279.9,148.0 280.1,147.2 280.4,144.0 280.7,142.7 280.9,142.1 281.2,140.9 281.4,142.9 281.7,141.9 282.0,141.4 282.2,141.3 282.5,142.3 282.8,142.8 283.0,148.6 283.3,146.8 283.6,143.6 283.8,144.5 284.1,143.7 284.3,143.7 284.6,142.9 284.9,143.0 285.1,144.1 285.4,145.5 285.7,144.8 285.9,143.7 286.2,143.8 286.5,145.1 286.7,144.7 287.0,145.9 287.2,145.0 287.5,145.7 287.8,144.9 288.0,145.1 288.3,146.2 288.6,146.4 288.8,145.3 289.1,143.8 289.4,145.4 289.6,145.3 289.9,145.8 290.2,148.5 290.4,149.1 290.7,151.7 290.9,153.3 291.2,158.2 291.5,157.7 291.7,164.4 292.0,157.9 292.3,161.7 292.5,160.9 292.8,159.0 293.1,153.2 293.3,151.4 293.6,153.4 293.8,160.0 294.1,161.4 294.4,159.5 294.6,161.6 294.9,161.1 295.2,159.8 295.4,162.2 295.7,162.8 296.0,160.6 296.2,164.4 296.5,159.4 296.8,162.9 297.0,158.8 297.3,157.1 297.5,155.8 297.8,158.7 298.1,157.9 298.3,158.1 298.6,158.8 298.9,159.8 299.1,156.4 299.4,163.5 299.7,167.2 299.9,172.9 300.2,175.2 300.4,180.1 300.7,183.6 301.0,188.5 301.2,185.4 301.5,187.7 301.8,188.9 302.0,187.4 302.3,179.2 302.6,173.6 302.8,176.4 303.1,176.9 303.3,181.4 303.6,182.7 303.9,179.5 304.1,185.3 304.4,180.5 304.7,181.9 304.9,175.1 305.2,185.4 305.5,176.8 305.7,180.8 306.0,180.9 306.2,176.6 306.5,179.1 306.8,182.5 307.0,181.3 307.3,179.8 307.6,175.4 307.8,180.5 308.1,172.9 308.4,177.1 308.6,169.9 308.9,172.2 309.2,172.1 309.4,172.9 309.7,169.7 309.9,174.8 310.2,163.2 310.5,164.9 310.7,162.1 311.0,161.1 311.3,153.6 311.5,169.6 311.8,167.1 312.1,170.0 312.3,162.7 312.6,176.3 312.8,161.9 313.1,171.8 313.4,175.3 313.6,170.2 313.9,167.6 314.2,164.2 314.4,166.5 314.7,161.8 315.0,165.5 315.2,166.4 315.5,174.9 315.8,165.1 316.0,163.0 316.3,169.0 316.5,175.4 316.8,173.4 317.1,162.4 317.3,171.5 317.6,172.4 317.9,173.5 318.1,168.7 318.4,173.6 318.7,174.8 318.9,177.5 319.2,173.5 319.4,170.7 319.7,175.8 320.0,172.8 320.2,174.7 320.5,175.1 320.8,175.6 321.0,176.5 321.3,174.2 321.6,176.1 321.8,179.3 322.1,177.9 322.3,179.1 322.6,178.2 322.9,179.4 323.1,179.2 323.4,184.1 323.7,180.5 323.9,178.9 324.2,184.9 324.5,179.5 324.7,182.4 325.0,183.7 325.2,186.9 325.5,182.3 325.8,186.2 326.0,185.9 326.3,184.8 326.6,187.8 326.8,188.2 327.1,189.1 327.4,188.3 327.6,188.0 327.9,188.9 328.2,189.5 328.4,190.9 328.7,191.0 328.9,192.2 329.2,190.9 329.5,192.8 329.7,194.5 330.0,194.5 330.3,194.0 330.5,195.7 330.8,195.9 331.1,196.3 331.3,196.8 331.6,196.9 331.8,197.2 332.1,197.5"/>
<g fill="none" stroke-width="1.2" stroke-linejoin="round" stroke-linecap="round"><polyline stroke="rgb(55,30,110)" points="133.7,197.5 133.9,197.4 134.2,197.4 134.5,197.2 134.7,197.0"/><polyline stroke="rgb(55,30,111)" points="134.7,197.0 135.0,196.8 135.2,196.6 135.5,196.3 135.8,195.7"/><polyline stroke="rgb(56,30,112)" points="135.8,195.7 136.0,195.4 136.3,195.2 136.6,193.8 136.8,193.1"/><polyline stroke="rgb(56,30,113)" points="136.8,193.1 137.1,192.4 137.4,191.8 137.6,190.9 137.9,191.5"/><polyline stroke="rgb(56,30,113)" points="137.9,191.5 138.2,189.6 138.4,188.6 138.7,187.9 138.9,187.5"/><polyline stroke="rgb(56,30,114)" points="138.9,187.5 139.2,185.3 139.5,186.1 139.7,186.7 140.0,184.6"/><polyline stroke="rgb(57,30,115)" points="140.0,184.6 140.3,183.4 140.5,179.8 140.8,177.4 141.1,178.8"/><polyline stroke="rgb(57,30,116)" points="141.1,178.8 141.3,177.5 141.6,173.8 141.8,176.1 142.1,175.6"/><polyline stroke="rgb(57,30,116)" points="142.1,175.6 142.4,175.2 142.6,176.0 142.9,173.8 143.2,174.8"/><polyline stroke="rgb(57,30,117)" points="143.2,174.8 143.4,177.5 143.7,175.3 144.0,173.0 144.2,171.3"/><polyline stroke="rgb(58,30,118)" points="144.2,171.3 144.5,171.2 144.8,171.5 145.0,169.6 145.3,172.6"/><polyline stroke="rgb(58,30,119)" points="145.3,172.6 145.5,173.7 145.8,170.7 146.1,170.1 146.3,170.8"/><polyline stroke="rgb(58,30,119)" points="146.3,170.8 146.6,170.7 146.9,168.9 147.1,165.6 147.4,167.4"/><polyline stroke="rgb(58,30,120)" points="147.4,167.4 147.7,168.4 147.9,163.4 148.2,161.9 148.4,164.0"/><polyline stroke="rgb(59,30,121)" points="148.4,164.0 148.7,168.8 149.0,171.1 149.2,171.7 149.5,162.7"/><polyline stroke="rgb(59,30,122)" points="149.5,162.7 149.8,164.9 150.0,166.0 150.3,161.6 150.6,161.3"/><polyline stroke="rgb(59,30,122)" points="150.6,161.3 150.8,160.1 151.1,153.9 151.3,152.6 151.6,154.9"/><polyline stroke="rgb(59,30,123)" points="151.6,154.9 151.9,155.4 152.1,150.8 152.4,154.5 152.7,153.7"/><polyline stroke="rgb(60,30,124)" points="152.7,153.7 152.9,157.7 153.2,162.2 153.5,161.2 153.7,155.2"/><polyline stroke="rgb(60,30,125)" points="153.7,155.2 154.0,153.5 154.2,144.5 154.5,146.7 154.8,153.3"/><polyline stroke="rgb(60,30,128)" points="154.8,153.3 155.0,148.3 155.3,156.0 155.6,166.0 155.8,166.3"/><polyline stroke="rgb(58,28,132)" points="155.8,166.3 156.1,155.2 156.4,155.8 156.6,154.6 156.9,155.1"/><polyline stroke="rgb(58,28,138)" points="156.9,155.1 157.2,153.6 157.4,145.5 157.7,142.0 157.9,141.8"/><polyline stroke="rgb(56,26,142)" points="157.9,141.8 158.2,159.0 158.5,167.8 158.7,146.9 159.0,142.5"/><polyline stroke="rgb(56,26,148)" points="159.0,142.5 159.3,164.2 159.5,146.9 159.8,126.4 160.1,121.4"/><polyline stroke="rgb(52,25,154)" points="160.1,121.4 160.3,118.4 160.6,115.0 160.8,116.3 161.1,116.0"/><polyline stroke="rgb(48,25,162)" points="161.1,116.0 161.4,116.9 161.6,118.8 161.9,120.1 162.2,117.7"/><polyline stroke="rgb(42,25,170)" points="162.2,117.7 162.4,112.6 162.7,120.6 163.0,117.0 163.2,110.7"/><polyline stroke="rgb(38,25,178)" points="163.2,110.7 163.5,111.9 163.8,113.3 164.0,111.1 164.3,108.3"/><polyline stroke="rgb(32,25,186)" points="164.3,108.3 164.5,109.1 164.8,112.3 165.1,110.6 165.3,115.0"/><polyline stroke="rgb(30,25,191)" points="165.3,115.0 165.6,108.5 165.9,106.5 166.1,108.8 166.4,109.7"/><polyline stroke="rgb(29,26,193)" points="166.4,109.7 166.7,107.7 166.9,108.8 167.2,111.5 167.4,111.5"/><polyline stroke="rgb(28,26,194)" points="167.4,111.5 167.7,115.9 168.0,129.5 168.2,137.9 168.5,110.3"/><polyline stroke="rgb(28,26,196)" points="168.5,110.3 168.8,105.5 169.0,112.2 169.3,107.7 169.6,98.9"/><polyline stroke="rgb(27,27,198)" points="169.6,98.9 169.8,95.0 170.1,103.8 170.3,109.4 170.6,100.5"/><polyline stroke="rgb(26,27,199)" points="170.6,100.5 170.9,98.2 171.1,93.2 171.4,90.1 171.7,91.7"/><polyline stroke="rgb(26,27,201)" points="171.7,91.7 171.9,89.2 172.2,96.5 172.5,89.1 172.7,84.6"/><polyline stroke="rgb(25,28,203)" points="172.7,84.6 173.0,84.3 173.2,81.1 173.5,76.7 173.8,79.3"/><polyline stroke="rgb(24,28,205)" points="173.8,79.3 174.0,87.2 174.3,83.4 174.6,81.9 174.8,79.2"/><polyline stroke="rgb(23,28,206)" points="174.8,79.2 175.1,77.3 175.4,78.9 175.6,80.1 175.9,80.7"/><polyline stroke="rgb(23,29,208)" points="175.9,80.7 176.2,77.7 176.4,75.7 176.7,75.0 176.9,77.6"/><polyline stroke="rgb(22,29,210)" points="176.9,77.6 177.2,79.5 177.5,77.9 177.7,81.2 178.0,78.6"/><polyline stroke="rgb(21,29,212)" points="178.0,78.6 178.3,76.9 178.5,80.1 178.8,79.7 179.1,74.5"/><polyline stroke="rgb(21,30,213)" points="179.1,74.5 179.3,76.5 179.6,76.6 179.8,73.1 180.1,75.2"/><polyline stroke="rgb(20,30,215)" points="180.1,75.2 180.4,75.6 180.6,72.3 180.9,73.1 181.2,72.0"/><polyline stroke="rgb(92,188,231)" points="181.2,72.0 181.4,71.4 181.7,70.9 182.0,71.8 182.2,73.9"/><polyline stroke="rgb(111,227,233)" points="182.2,73.9 182.5,74.7 182.8,92.2 183.0,88.9 183.3,79.0"/><polyline stroke="rgb(112,226,230)" points="183.3,79.0 183.5,81.9 183.8,73.5 184.1,73.8 184.3,79.2"/><polyline stroke="rgb(114,226,227)" points="184.3,79.2 184.6,74.5 184.9,74.6 185.1,69.6 185.4,72.4"/><polyline stroke="rgb(111,221,206)" points="185.4,72.4 185.7,72.3 185.9,74.3 186.2,75.1 186.4,75.3"/><polyline stroke="rgb(94,204,129)" points="186.4,75.3 186.7,78.1 187.0,79.1 187.2,74.9 187.5,79.8"/><polyline stroke="rgb(87,201,102)" points="187.5,79.8 187.8,75.6 188.0,69.7 188.3,72.6 188.6,76.3"/><polyline stroke="rgb(82,203,92)" points="188.6,76.3 188.8,72.7 189.1,73.6 189.3,72.7 189.6,69.6"/><polyline stroke="rgb(78,204,81)" points="189.6,69.6 189.9,74.5 190.1,78.3 190.4,76.3 190.7,74.6"/><polyline stroke="rgb(73,206,71)" points="190.7,74.6 190.9,91.4 191.2,86.2 191.5,85.2 191.7,78.4"/><polyline stroke="rgb(69,207,61)" points="191.7,78.4 192.0,75.1 192.2,72.7 192.5,77.4 192.8,72.4"/><polyline stroke="rgb(64,209,50)" points="192.8,72.4 193.0,70.9 193.3,73.7 193.6,86.1 193.8,78.2"/><polyline stroke="rgb(60,210,40)" points="193.8,78.2 194.1,70.0 194.4,72.3 194.6,68.4 194.9,68.4"/><polyline stroke="rgb(74,211,38)" points="194.9,68.4 195.2,79.3 195.4,76.5 195.7,73.1 195.9,68.5"/><polyline stroke="rgb(88,212,36)" points="195.9,68.5 196.2,74.5 196.5,72.3 196.7,73.1 197.0,77.0"/><polyline stroke="rgb(102,213,34)" points="197.0,77.0 197.3,81.5 197.5,75.0 197.8,74.0 198.1,71.2"/><polyline stroke="rgb(116,214,32)" points="198.1,71.2 198.3,72.3 198.6,73.8 198.8,72.8 199.1,75.1"/><polyline stroke="rgb(130,215,30)" points="199.1,75.1 199.4,73.1 199.6,72.8 199.9,73.1 200.2,71.2"/><polyline stroke="rgb(140,217,32)" points="200.2,71.2 200.4,73.2 200.7,72.3 201.0,71.1 201.2,72.5"/><polyline stroke="rgb(149,218,33)" points="201.2,72.5 201.5,75.3 201.8,74.0 202.0,78.4 202.3,78.4"/><polyline stroke="rgb(159,220,35)" points="202.3,78.4 202.5,72.6 202.8,75.4 203.1,73.5 203.3,74.1"/><polyline stroke="rgb(168,221,36)" points="203.3,74.1 203.6,74.1 203.9,78.9 204.1,74.8 204.4,73.6"/><polyline stroke="rgb(178,223,38)" points="204.4,73.6 204.7,76.1 204.9,76.8 205.2,79.7 205.4,75.8"/><polyline stroke="rgb(188,225,40)" points="205.4,75.8 205.7,73.7 206.0,74.0 206.2,76.2 206.5,77.7"/><polyline stroke="rgb(200,228,50)" points="206.5,77.7 206.8,75.6 207.0,77.7 207.3,77.3 207.6,75.3"/><polyline stroke="rgb(213,231,63)" points="207.6,75.3 207.8,74.4 208.1,72.8 208.3,71.3 208.6,71.2"/><polyline stroke="rgb(227,235,77)" points="208.6,71.2 208.9,72.0 209.1,74.5 209.4,73.2 209.7,74.6"/><polyline stroke="rgb(240,238,90)" points="209.7,74.6 209.9,87.7 210.2,86.9 210.5,79.4 210.7,79.3"/><polyline stroke="rgb(240,234,84)" points="210.7,79.3 211.0,78.6 211.2,78.6 211.5,79.8 211.8,77.5"/><polyline stroke="rgb(240,231,78)" points="211.8,77.5 212.0,76.3 212.3,77.3 212.6,77.7 212.8,76.7"/><polyline stroke="rgb(240,227,72)" points="212.8,76.7 213.1,77.5 213.4,79.2 213.6,77.7 213.9,75.5"/><polyline stroke="rgb(240,224,66)" points="213.9,75.5 214.2,75.1 214.4,75.6 214.7,75.2 214.9,75.3"/><polyline stroke="rgb(240,220,60)" points="214.9,75.3 215.2,76.1 215.5,76.7 215.7,77.3 216.0,76.1"/><polyline stroke="rgb(235,207,55)" points="216.0,76.1 216.3,76.9 216.5,80.0 216.8,77.7 217.1,79.0"/><polyline stroke="rgb(229,193,49)" points="217.1,79.0 217.3,80.9 217.6,78.0 217.8,76.5 218.1,76.3"/><polyline stroke="rgb(224,180,44)" points="218.1,76.3 218.4,75.8 218.6,79.0 218.9,80.7 219.2,81.1"/><polyline stroke="rgb(220,167,40)" points="219.2,81.1 219.4,81.8 219.7,82.1 220.0,79.6 220.2,83.5"/><polyline stroke="rgb(218,155,39)" points="220.2,83.5 220.5,82.2 220.8,82.3 221.0,81.3 221.3,84.0"/><polyline stroke="rgb(216,143,38)" points="221.3,84.0 221.5,79.8 221.8,79.4 222.1,78.7 222.3,80.4"/><polyline stroke="rgb(214,131,37)" points="222.3,80.4 222.6,78.1 222.9,76.5 223.1,76.7 223.4,78.7"/><polyline stroke="rgb(212,119,36)" points="223.4,78.7 223.7,79.3 223.9,79.1 224.2,78.1 224.4,78.2"/><polyline stroke="rgb(209,107,34)" points="224.4,78.2 224.7,77.6 225.0,80.0 225.2,81.2 225.5,82.1"/><polyline stroke="rgb(207,93,32)" points="225.5,82.1 225.8,85.1 226.0,85.5 226.3,80.1 226.6,81.8"/><polyline stroke="rgb(204,80,29)" points="226.6,81.8 226.8,80.3 227.1,80.4 227.3,84.7 227.6,96.3"/><polyline stroke="rgb(201,67,26)" points="227.6,96.3 227.9,96.3 228.1,86.2 228.4,82.9 228.7,82.2"/><polyline stroke="rgb(198,59,24)" points="228.7,82.2 228.9,82.3 229.2,83.1 229.5,83.2 229.7,82.4"/><polyline stroke="rgb(194,57,24)" points="229.7,82.4 230.0,80.7 230.2,80.2 230.5,80.9 230.8,80.8"/><polyline stroke="rgb(190,55,22)" points="230.8,80.8 231.0,79.2 231.3,79.9 231.6,80.5 231.8,81.7"/><polyline stroke="rgb(186,53,22)" points="231.8,81.7 232.1,81.4 232.4,81.3 232.6,82.0 232.9,81.3"/><polyline stroke="rgb(182,51,20)" points="232.9,81.3 233.2,81.7 233.4,81.5 233.7,82.1 233.9,82.2"/><polyline stroke="rgb(178,49,20)" points="233.9,82.2 234.2,82.5 234.5,82.2 234.7,83.0 235.0,83.8"/><polyline stroke="rgb(174,47,18)" points="235.0,83.8 235.3,84.0 235.5,85.9 235.8,109.4 236.1,107.7"/><polyline stroke="rgb(170,45,18)" points="236.1,107.7 236.3,104.1 236.6,100.6 236.8,96.4 237.1,93.2"/><polyline stroke="rgb(166,43,16)" points="237.1,93.2 237.4,93.0 237.6,94.0 237.9,92.8 238.2,92.5"/><polyline stroke="rgb(162,41,16)" points="238.2,92.5 238.4,88.2 238.7,88.0 239.0,90.1 239.2,91.2"/><polyline stroke="rgb(159,40,15)" points="239.2,91.2 239.5,92.4 239.8,92.7 240.0,92.2 240.3,90.0"/><polyline stroke="rgb(156,40,15)" points="240.3,90.0 240.5,88.5 240.8,88.6 241.1,89.1 241.3,89.5"/><polyline stroke="rgb(153,40,14)" points="241.3,89.5 241.6,89.3 241.9,88.7 242.1,88.6 242.4,89.2"/><polyline stroke="rgb(151,40,14)" points="242.4,89.2 242.7,90.3 242.9,89.9 243.2,92.4 243.4,92.5"/><polyline stroke="rgb(148,39,14)" points="243.4,92.5 243.7,102.2 244.0,110.3 244.2,118.5 244.5,116.8"/><polyline stroke="rgb(145,39,14)" points="244.5,116.8 244.8,109.3 245.0,97.8 245.3,100.5 245.6,107.9"/><polyline stroke="rgb(143,39,14)" points="245.6,107.9 245.8,110.8 246.1,108.5 246.3,107.3 246.6,110.0"/><polyline stroke="rgb(140,39,14)" points="246.6,110.0 246.9,110.5 247.1,105.3 247.4,107.2 247.7,103.3"/><polyline stroke="rgb(137,39,13)" points="247.7,103.3 247.9,99.0 248.2,95.6 248.5,95.9 248.7,97.0"/><polyline stroke="rgb(135,39,13)" points="248.7,97.0 249.0,97.4 249.2,96.0 249.5,97.8 249.8,96.7"/><polyline stroke="rgb(132,39,13)" points="249.8,96.7 250.0,96.4 250.3,96.5 250.6,94.9 250.8,93.7"/><polyline stroke="rgb(129,38,13)" points="250.8,93.7 251.1,93.5 251.4,93.7 251.6,93.7 251.9,94.1"/><polyline stroke="rgb(127,38,12)" points="251.9,94.1 252.2,94.5 252.4,94.7 252.7,95.1 252.9,94.9"/><polyline stroke="rgb(124,38,12)" points="252.9,94.9 253.2,95.2 253.5,94.3 253.7,94.2 254.0,95.2"/><polyline stroke="rgb(121,38,12)" points="254.0,95.2 254.3,95.6 254.5,95.1 254.8,97.1 255.1,155.7"/><polyline stroke="rgb(120,38,12)" points="255.1,155.7 255.3,182.1 255.6,150.8 255.8,158.9 256.1,155.4"/><polyline stroke="rgb(118,38,12)" points="256.1,155.4 256.4,142.8 256.6,131.7 256.9,119.1 257.2,107.2"/><polyline stroke="rgb(118,38,12)" points="257.2,107.2 257.4,103.4 257.7,101.1 258.0,100.0 258.2,99.2"/><polyline stroke="rgb(116,37,13)" points="258.2,99.2 258.5,99.0 258.8,99.0 259.0,99.0 259.3,98.8"/><polyline stroke="rgb(116,37,13)" points="259.3,98.8 259.5,99.2 259.8,99.4 260.1,99.1 260.3,99.8"/><polyline stroke="rgb(114,37,13)" points="260.3,99.8 260.6,100.2 260.9,99.9 261.1,100.1 261.4,100.7"/><polyline stroke="rgb(114,37,13)" points="261.4,100.7 261.7,100.5 261.9,100.4 262.2,101.2 262.4,102.4"/><polyline stroke="rgb(112,36,14)" points="262.4,102.4 262.7,103.0 263.0,105.2 263.2,105.0 263.5,105.3"/><polyline stroke="rgb(112,36,14)" points="263.5,105.3 263.8,106.0 264.0,105.6 264.3,105.6 264.6,106.9"/><polyline stroke="rgb(110,36,14)" points="264.6,106.9 264.8,106.2 265.1,104.5 265.3,105.4 265.6,107.0"/><polyline stroke="rgb(112,34,13)" points="265.6,107.0 265.9,106.6 266.1,106.3 266.4,107.5 266.7,107.1 266.9,108.3 267.2,106.1 267.5,105.9 267.7,106.4 268.0,108.2 268.2,108.6 268.5,108.8 268.8,110.4 269.0,112.1 269.3,119.0 269.6,121.7 269.8,125.8 270.1,125.9 270.4,127.3 270.6,122.8 270.9,123.8 271.2,116.2 271.4,116.2 271.7,134.6 271.9,124.0 272.2,116.4 272.5,117.9 272.7,115.4 273.0,122.8 273.3,120.6 273.5,119.8 273.8,119.6 274.1,121.2 274.3,118.0 274.6,118.1 274.8,114.2 275.1,114.7 275.4,113.0 275.6,112.9 275.9,112.9 276.2,112.0 276.4,112.0 276.7,113.0 277.0,112.7 277.2,113.7 277.5,112.2 277.8,111.4 278.0,113.1 278.3,113.6 278.5,114.0 278.8,120.0 279.1,116.7 279.3,115.4 279.6,115.8 279.9,123.1 280.1,121.5 280.4,116.4 280.7,114.0 280.9,113.5 281.2,113.5 281.4,113.8 281.7,113.9 282.0,113.4 282.2,112.9 282.5,114.1 282.8,115.6 283.0,123.2 283.3,121.3 283.6,117.2 283.8,116.8 284.1,115.9 284.3,116.4 284.6,115.8 284.9,116.2 285.1,117.4 285.4,118.6 285.7,117.2 285.9,116.5 286.2,116.6 286.5,117.7 286.7,117.8 287.0,119.7 287.2,118.9 287.5,118.6 287.8,118.4 288.0,117.6 288.3,119.7 288.6,120.2 288.8,119.4 289.1,118.4 289.4,118.8 289.6,118.9 289.9,119.9 290.2,122.5 290.4,124.6 290.7,127.5 290.9,131.5 291.2,138.6 291.5,137.4 291.7,147.0 292.0,138.3 292.3,143.3 292.5,142.0 292.8,139.2 293.1,128.9 293.3,127.3 293.6,130.5 293.8,140.1 294.1,142.1 294.4,138.5 294.6,142.4 294.9,141.4 295.2,139.1 295.4,142.5 295.7,143.9 296.0,140.7 296.2,146.0 296.5,138.4 296.8,143.9 297.0,137.5 297.3,134.1 297.5,131.7 297.8,136.0 298.1,134.9 298.3,135.4 298.6,136.5 298.9,137.3 299.1,132.1 299.4,142.8 299.7,149.5 299.9,157.9 300.2,161.9 300.4,169.3 300.7,175.0 301.0,182.8 301.2,178.2 301.5,181.7 301.8,183.5 302.0,181.0 302.3,167.5 302.6,158.6 302.8,163.4 303.1,163.4 303.3,170.8 303.6,173.1 303.9,167.6 304.1,177.0 304.4,169.4 304.7,171.8 304.9,159.8 305.2,177.4 305.5,163.2 305.7,169.7 306.0,169.5 306.2,162.8 306.5,166.4 306.8,169.0 307.0,172.9 307.3,162.0 307.6,163.5 307.8,162.3 308.1,158.7 308.4,159.1 308.6,155.5 308.9,157.1 309.2,155.2 309.4,154.3 309.7,154.3 309.9,144.8 310.2,139.4 310.5,142.0 310.7,138.0 311.0,138.0 311.3,143.7 311.5,147.4 311.8,147.2 312.1,148.0 312.3,144.1 312.6,144.2 312.8,143.2 313.1,144.9 313.4,138.7 313.6,137.7 313.9,139.6 314.2,135.8 314.4,137.4 314.7,134.5 315.0,133.9 315.2,134.4 315.5,133.6 315.8,134.4 316.0,133.4 316.3,133.1 316.5,134.0 316.8,133.2 317.1,133.0 317.3,133.2 317.6,133.9 317.9,134.1 318.1,134.2 318.4,134.4 318.7,133.9 318.9,134.7 319.2,134.6 319.4,135.2 319.7,138.1 320.0,137.0 320.2,135.4 320.5,135.1 320.8,135.6 321.0,135.8 321.3,135.5 321.6,135.7 321.8,135.9 322.1,135.7 322.3,136.4 322.6,136.5 322.9,136.9 323.1,136.4 323.4,137.8 323.7,137.7 323.9,137.3 324.2,138.0 324.5,137.9 324.7,138.1 325.0,137.7 325.2,137.6 325.5,137.9 325.8,137.9 326.0,138.4 326.3,138.2 326.6,138.4 326.8,138.4 327.1,139.1 327.4,139.1 327.6,138.9 327.9,138.8 328.2,139.3 328.4,139.7 328.7,139.4 328.9,139.6 329.2,139.7 329.5,139.7 329.7,140.1 330.0,140.1 330.3,140.2 330.5,141.4 330.8,141.2 331.1,140.6 331.3,140.7 331.6,141.1 331.8,141.1 332.1,141.4 332.4,141.6 332.6,141.8 332.9,141.7 333.2,141.8 333.4,141.9 333.7,142.4 334.0,143.8 334.2,143.1 334.5,143.7 334.8,143.2 335.0,143.7 335.3,143.3 335.5,143.2 335.8,144.1 336.1,144.1 336.3,144.1 336.6,146.2 336.9,145.8 337.1,144.6 337.4,144.4 337.7,145.2 337.9,144.3 338.2,145.8 338.4,145.0 338.7,145.1 339.0,145.4 339.2,145.4 339.5,145.8 339.8,147.0 340.0,146.8 340.3,146.1 340.6,147.1 340.8,146.6 341.1,148.8 341.3,148.8 341.6,146.9 341.9,147.2 342.1,149.0 342.4,147.4 342.7,147.2 342.9,151.8 343.2,151.5 343.5,152.1 343.7,153.6 344.0,149.1 344.2,152.4 344.5,153.7 344.8,155.0 345.0,154.7 345.3,156.3 345.6,157.1 345.8,157.0 346.1,154.5 346.4,160.7 346.6,157.5 346.9,160.0 347.2,161.7 347.4,157.4 347.7,165.5 347.9,163.4 348.2,171.0 348.5,172.1 348.7,174.7 349.0,178.9 349.3,187.9 349.5,181.6 349.8,185.4 350.1,185.8 350.3,182.3 350.6,188.1 350.8,187.3 351.1,187.6 351.4,185.7 351.6,191.0 351.9,186.1 352.2,187.6 352.4,188.4 352.7,190.6 353.0,176.7 353.2,175.8 353.5,182.4 353.8,191.4 354.0,195.6 354.3,188.7 354.5,175.9 354.8,178.0 355.1,173.6 355.3,174.3 355.6,179.3 355.9,178.6 356.1,172.3 356.4,183.3 356.7,185.5 356.9,184.0 357.2,190.2 357.4,178.5 357.7,177.3 358.0,184.8 358.2,181.5 358.5,176.9 358.8,176.5 359.0,183.0 359.3,173.9 359.6,172.3 359.8,170.8 360.1,170.3 360.3,168.7 360.6,171.5 360.9,168.6 361.1,167.1 361.4,159.4 361.7,161.1 361.9,163.4 362.2,164.6 362.5,162.6 362.7,161.2 363.0,160.8 363.2,158.4 363.5,158.3 363.8,158.1 364.0,157.9 364.3,165.6 364.6,160.7 364.8,156.6 365.1,156.3 365.4,163.7 365.6,158.1 365.9,158.2 366.2,158.2 366.4,166.5 366.7,161.8 366.9,160.6 367.2,161.8 367.5,157.5 367.7,157.4 368.0,165.7 368.3,163.1 368.5,158.3 368.8,158.3 369.1,156.9 369.3,157.5 369.6,157.0 369.8,158.1 370.1,159.6 370.4,157.0 370.6,158.8 370.9,164.2 371.2,160.3 371.4,159.2 371.7,159.4 372.0,159.6 372.2,164.4 372.5,161.1 372.8,156.6 373.0,159.0 373.3,159.8 373.5,161.0 373.8,158.9 374.1,160.1 374.3,160.6 374.6,157.6 374.9,158.9 375.1,160.1 375.4,157.8 375.7,157.6 375.9,157.6 376.2,158.3 376.4,157.9 376.7,157.2 377.0,157.9 377.2,158.7 377.5,158.6 377.8,157.6 378.0,156.9 378.3,159.0 378.6,157.6 378.8,156.8 379.1,157.3 379.3,156.7 379.6,156.8 379.9,157.7 380.1,156.9 380.4,156.9 380.7,156.7 380.9,157.0 381.2,156.8 381.5,157.1 381.7,157.3 382.0,157.3 382.2,157.2 382.5,157.5 382.8,157.8 383.0,157.8 383.3,157.5 383.6,157.6 383.8,157.6 384.1,157.5 384.4,157.6 384.6,158.0 384.9,158.2 385.2,158.4 385.4,158.7 385.7,158.4 385.9,158.9 386.2,159.4 386.5,158.9 386.7,159.9 387.0,160.0 387.3,161.2 387.5,162.6 387.8,162.7 388.1,164.4 388.3,163.5 388.6,163.6 388.8,163.7 389.1,164.8 389.4,173.2 389.6,166.7 389.9,162.3 390.2,161.8 390.4,162.0 390.7,162.1 391.0,161.7 391.2,161.2 391.5,160.9 391.8,160.4 392.0,160.4 392.3,160.6 392.5,161.2 392.8,164.1 393.1,162.7 393.3,161.1 393.6,160.6 393.9,160.3 394.1,160.6 394.4,160.8 394.7,161.5 394.9,161.5 395.2,161.1 395.4,162.4 395.7,161.8 396.0,162.0 396.2,162.1 396.5,163.1 396.8,164.7 397.0,163.7 397.3,162.2 397.6,165.4 397.8,166.0 398.1,163.9 398.3,166.2 398.6,170.2 398.9,165.8 399.1,163.9 399.4,169.0 399.7,168.1 399.9,164.7 400.2,169.3 400.5,169.0 400.7,168.3 401.0,169.6 401.2,171.7 401.5,172.4 401.8,170.0 402.0,169.9 402.3,168.8 402.6,172.6 402.8,174.6 403.1,172.2 403.4,171.1 403.6,175.6 403.9,175.1 404.2,170.6 404.4,172.0 404.7,173.9 404.9,176.2 405.2,180.7 405.5,178.5 405.7,182.9 406.0,184.7 406.3,180.9 406.5,181.9 406.8,178.6 407.1,180.3 407.3,182.6 407.6,182.2 407.8,181.9 408.1,182.5 408.4,182.6 408.6,182.0 408.9,185.2 409.2,189.7 409.4,188.6 409.7,191.3 410.0,192.2 410.2,195.9 410.5,196.3 410.8,196.1 411.0,196.8 411.3,197.3 411.5,197.5 411.8,197.5 412.1,197.5 412.3,197.5 412.6,197.5 412.9,197.5 413.1,197.5 413.4,197.5 413.7,197.5 413.9,197.5 414.2,197.5 414.4,197.5 414.7,197.5 415.0,197.5 415.2,197.5 415.5,197.5 415.8,197.5 416.0,197.5 416.3,197.5 416.6,197.5 416.8,197.5 417.1,197.5 417.3,197.5 417.6,197.5 417.9,197.5 418.1,197.4 418.4,197.5 418.7,197.5 418.9,197.5 419.2,197.5 419.5,197.5 419.7,197.5 420.0,197.5 420.2,197.5 420.5,197.5 420.8,197.5 421.0,197.5 421.3,197.5 421.6,197.5 421.8,197.5 422.1,197.5 422.4,197.5 422.6,197.5 422.9,197.5 423.2,197.5 423.4,197.4 423.7,197.4 423.9,197.5 424.2,197.5 424.5,197.4 424.7,197.3 425.0,197.4 425.3,197.5 425.5,197.4 425.8,197.4 426.1,197.4 426.3,197.4 426.6,197.5 426.8,197.3 427.1,197.3 427.4,195.9 427.6,197.0 427.9,197.5 428.2,195.1 428.4,195.9 428.7,196.3 429.0,197.1 429.2,196.9 429.5,196.7 429.8,194.2 430.0,195.9 430.3,196.2 430.5,195.4 430.8,195.1 431.1,193.6 431.3,196.1 431.6,194.9 431.9,192.6 432.1,192.8 432.4,196.2 432.7,195.1 432.9,195.3 433.2,195.6 433.4,194.5 433.7,194.7 434.0,196.0 434.2,193.8 434.5,193.7 434.8,194.5 435.0,194.4 435.3,193.7 435.6,192.4 435.8,192.8 436.1,194.9 436.3,194.6 436.6,189.0 436.9,188.1 437.1,193.4 437.4,196.1 437.7,193.1 437.9,190.7 438.2,186.5 438.5,190.0 438.7,190.1 439.0,187.8 439.2,185.8 439.5,183.6 439.8,188.2 440.0,189.6 440.3,186.8 440.6,191.7 440.8,186.4 441.1,187.9 441.4,191.1 441.6,193.7 441.9,191.6 442.2,189.5 442.4,192.1 442.7,195.2 442.9,194.0 443.2,191.8 443.5,189.5 443.7,183.1 444.0,188.8 444.3,191.3 444.5,191.7 444.8,188.1 445.1,190.8 445.3,188.5 445.6,191.0 445.8,186.3 446.1,185.1 446.4,186.1 446.6,186.5 446.9,190.7 447.2,189.9 447.4,182.8 447.7,181.7 448.0,180.5 448.2,182.2 448.5,181.8 448.8,179.9 449.0,180.9 449.3,182.3 449.5,178.6 449.8,179.8 450.1,178.8 450.3,176.0 450.6,174.3 450.9,176.1 451.1,180.0 451.4,182.7 451.7,181.7 451.9,176.3 452.2,174.9 452.4,175.7 452.7,179.7 453.0,175.4 453.2,173.9 453.5,174.3 453.8,175.6 454.0,177.1 454.3,174.9 454.6,174.6 454.8,175.3 455.1,175.2 455.3,175.7 455.6,174.5 455.9,173.4 456.1,173.9 456.4,173.1 456.7,173.0 456.9,174.2 457.2,174.0 457.5,174.2 457.7,173.1 458.0,173.2 458.2,174.5 458.5,173.9 458.8,173.0 459.0,172.9 459.3,173.5 459.6,173.8 459.8,173.3 460.1,173.3 460.4,173.4 460.6,173.3 460.9,173.9 461.2,173.8 461.4,173.6 461.7,173.5 461.9,173.4 462.2,173.1 462.5,173.1 462.7,173.3 463.0,173.7 463.3,173.4 463.5,173.5 463.8,173.5 464.1,173.4 464.3,173.4 464.6,173.9 464.8,173.9 465.1,174.1 465.4,173.7 465.6,173.7 465.9,173.7 466.2,173.9 466.4,173.7 466.7,173.7 467.0,173.9 467.2,174.1 467.5,173.9 467.8,174.1 468.0,174.2 468.3,174.6 468.5,174.9 468.8,175.8 469.1,176.5 469.3,176.5 469.6,176.7 469.9,176.3 470.1,176.2 470.4,175.8 470.7,177.7 470.9,177.1 471.2,176.6 471.4,176.0 471.7,175.6 472.0,175.9 472.2,175.7 472.5,175.5 472.8,174.8 473.0,174.8 473.3,175.0 473.6,175.2 473.8,176.5 474.1,176.3 474.3,176.1 474.6,175.4 474.9,174.8 475.1,174.8 475.4,174.7 475.7,175.5 475.9,175.7 476.2,175.1 476.5,175.8 476.7,176.3 477.0,177.4 477.2,177.7 477.5,177.7 477.8,177.4 478.0,176.7 478.3,176.2 478.6,176.7 478.8,177.1 479.1,177.3 479.4,178.0 479.6,177.6 479.9,177.1 480.2,176.6 480.4,176.4 480.7,176.2 480.9,176.8 481.2,176.8 481.5,176.1 481.7,176.1 482.0,176.6 482.3,176.7 482.5,176.5 482.8,176.1 483.1,176.0 483.3,176.3 483.6,176.3 483.8,176.2 484.1,176.1 484.4,176.1 484.6,176.4 484.9,176.4 485.2,176.4 485.4,176.8 485.7,176.9 486.0,176.8 486.2,176.7 486.5,177.2 486.8,177.8 487.0,178.0 487.3,178.3 487.5,178.1 487.8,178.0 488.1,178.3 488.3,177.9 488.6,178.0 488.9,178.2 489.1,177.5 489.4,178.1 489.7,178.2 489.9,177.7 490.2,178.6 490.4,178.0 490.7,177.7 491.0,178.2 491.2,177.9 491.5,177.9 491.8,177.8 492.0,177.6 492.3,177.8 492.6,177.7 492.8,177.7 493.1,178.0 493.3,177.9 493.6,177.9 493.9,178.5 494.1,180.9 494.4,179.5 494.7,178.5 494.9,178.4 495.2,178.0 495.5,178.0 495.7,178.6 496.0,178.4 496.2,178.3 496.5,178.5 496.8,178.7 497.0,178.7 497.3,178.9 497.6,178.7 497.8,179.1 498.1,180.0 498.4,179.6 498.6,179.1 498.9,179.7 499.2,178.9 499.4,178.8 499.7,179.2 499.9,179.0 500.2,179.0 500.5,179.2 500.7,180.1 501.0,179.4 501.3,178.8 501.5,179.2 501.8,179.0 502.1,178.9 502.3,180.8 502.6,179.7 502.8,179.2 503.1,179.6 503.4,179.6 503.6,179.4 503.9,179.5 504.2,179.7 504.4,179.9 504.7,180.1 505.0,180.2 505.2,180.4 505.5,180.6 505.8,180.8 506.0,180.8 506.3,180.7 506.5,180.7 506.8,180.7 507.1,180.6 507.3,180.7 507.6,180.7 507.9,180.8 508.1,180.8 508.4,180.9 508.7,181.0 508.9,181.2 509.2,181.3 509.4,181.5 509.7,181.6 510.0,181.7 510.2,181.8 510.5,181.9 510.8,181.9 511.0,182.0 511.3,182.2 511.6,182.4 511.8,182.6 512.1,182.9 512.3,183.1 512.6,183.0 512.9,182.9 513.1,182.8 513.4,182.7 513.7,182.6 513.9,182.7 514.2,183.0 514.5,183.2 514.7,183.4 515.0,183.7 515.2,183.6 515.5,183.4 515.8,183.2 516.0,183.0 516.3,182.8 516.6,182.9 516.8,183.2 517.1,183.4 517.4,183.6 517.6,183.8 517.9,183.8 518.2,183.7 518.4,183.5 518.7,183.4 518.9,183.3 519.2,183.6 519.5,184.1 519.7,184.6 520.0,185.1 520.3,185.6 520.5,185.6 520.8,185.4 521.1,185.2 521.3,185.1 521.6,184.9 521.8,185.2 522.1,185.7 522.4,186.2 522.6,186.7 522.9,187.2 523.2,187.5 523.4,187.7 523.7,188.0 524.0,188.2 524.2,188.5 524.5,188.9 524.8,189.3 525.0,189.7 525.3,190.1 525.5,190.5 525.8,190.5 526.1,190.3 526.3,190.1 526.6,189.8 526.9,189.6 527.1,190.1 527.4,190.9 527.7,191.6 527.9,192.4 528.2,193.1 528.4,193.5 528.7,193.8 529.0,194.1 529.2,194.3 529.5,194.6"/></g>
<g fill="#8296e0" stroke="none"><rect x="178.9" y="58" width="19.5" height="2.9"/><polygon points="197.7,54.4 208.2,59.4 197.7,64.4"/></g>
<g fill="#be9678" stroke="none"><rect x="342" y="58" width="13.4" height="2.9"/><polygon points="342.8,54.4 330.4,59.4 342.8,64.4"/></g>
<line x1="198.8" y1="42.5" x2="198.8" y2="197.5" stroke="#2a2ce0" stroke-width="1.3" stroke-dasharray="1.5 1.5"/>
<line x1="340.4" y1="42.5" x2="340.4" y2="197.5" stroke="#2a2ce0" stroke-width="1.3" stroke-dasharray="1.5 1.5"/>
<rect x="54.5" y="42.5" width="475.0" height="155.0" fill="none" stroke="#000" stroke-width="1.1"/>
<path d="M94.1 42.5v3.3M94.1 197.5v3.3M133.7 42.5v6.0M133.7 197.5v6.0M173.2 42.5v3.3M173.2 197.5v3.3M212.8 42.5v6.0M212.8 197.5v6.0M252.4 42.5v3.3M252.4 197.5v3.3M292.0 42.5v6.0M292.0 197.5v6.0M331.6 42.5v3.3M331.6 197.5v3.3M371.2 42.5v6.0M371.2 197.5v6.0M410.8 42.5v3.3M410.8 197.5v3.3M450.3 42.5v6.0M450.3 197.5v6.0M489.9 42.5v3.3M489.9 197.5v3.3M54.5 197.5h-6.0M54.5 174.7h-3.3M529.5 174.7h-3.3M54.5 151.9h-6.0M529.5 151.9h-6.0M54.5 129.1h-3.3M529.5 129.1h-3.3M54.5 106.3h-6.0M529.5 106.3h-6.0M54.5 83.5h-3.3M529.5 83.5h-3.3M54.5 60.7h-6.0M529.5 60.7h-6.0" stroke="#000" stroke-width="1.1" fill="none"/>
<g font-family="'Liberation Serif', 'DejaVu Serif', serif"><text x="134.2" y="221.0" text-anchor="middle" fill="#000" font-size="16.6" >300</text><text x="213.3" y="221.0" text-anchor="middle" fill="#000" font-size="16.6" >600</text><text x="292.5" y="221.0" text-anchor="middle" fill="#000" font-size="16.6" >900</text><text x="371.7" y="221.0" text-anchor="middle" fill="#000" font-size="16.6" >1200</text><text x="450.8" y="221.0" text-anchor="middle" fill="#000" font-size="16.6" >1500</text><text x="530.0" y="221.0" text-anchor="middle" fill="#000" font-size="16.6" >1800</text><text x="43.8" y="202.9" text-anchor="end" fill="#000" font-size="16.6" >0</text><text x="43.8" y="157.3" text-anchor="end" fill="#000" font-size="16.6" >0.5</text><text x="43.8" y="111.7" text-anchor="end" fill="#000" font-size="16.6" >1.0</text><text x="43.8" y="66.1" text-anchor="end" fill="#000" font-size="16.6" >1.5</text><text x="134.0" y="32.0" text-anchor="middle" fill="#000" font-size="16.6" >4.1</text><text x="213.1" y="32.0" text-anchor="middle" fill="#000" font-size="16.6" >2.1</text><text x="292.3" y="32.0" text-anchor="middle" fill="#000" font-size="16.6" >1.4</text><text x="371.5" y="32.0" text-anchor="middle" fill="#000" font-size="16.6" >1.0</text><text x="450.6" y="32.0" text-anchor="middle" fill="#000" font-size="16.6" >0.8</text><text x="529.8" y="32.0" text-anchor="middle" fill="#000" font-size="16.6" >0.7</text><text x="175.0" y="32.0" text-anchor="start" fill="#3a2fd0" font-size="16.6" >2E<tspan dy="4.5" font-size="12">g</tspan></text><text x="335.5" y="32.0" text-anchor="start" fill="#3a2fd0" font-size="16.6" >E<tspan dy="4.5" font-size="12">g</tspan></text><text x="291.7" y="14.3" text-anchor="middle" fill="#000" font-size="16.6" >photon energy E (eV)</text><text x="292.4" y="237.7" text-anchor="middle" fill="#000" font-size="16.6" letter-spacing="0.1">wavelength λ (nm)</text><text x="59.8" y="63.0" text-anchor="start" fill="#000" font-size="16.6" >down-conversion</text><text x="362.5" y="63.0" text-anchor="start" fill="#000" font-size="16.6" >up-conversion</text><text x="205.2" y="163.6" text-anchor="start" fill="#505050" font-size="16.6" ><tspan font-style="italic">A</tspan><tspan dy="3.8" font-size="12">c-Si</tspan></text><text transform="translate(17.6,119.9) rotate(-90)" text-anchor="middle" font-size="16.7">irradiance S (W/m<tspan dy="-6" font-size="11">2</tspan><tspan dy="6">nm)</tspan></text></g>
</svg></body></html>
